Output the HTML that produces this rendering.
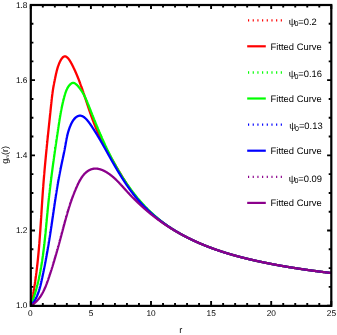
<!DOCTYPE html>
<html><head><meta charset="utf-8"><title>g_m(r)</title>
<style>
html,body{margin:0;padding:0;background:#fff;}
svg{display:block;will-change:transform;}
text{font-family:"Liberation Sans",sans-serif;fill:#000;text-rendering:geometricPrecision;}
</style></head><body>
<svg width="337" height="335" viewBox="0 0 337 335">
<rect x="0" y="0" width="337" height="335" fill="#fff"/>
<defs><clipPath id="c"><rect x="30.80" y="5.00" width="300.50" height="300.70"/></clipPath></defs>
<g clip-path="url(#c)" fill="none" stroke-width="2.3" stroke-linejoin="round" stroke-linecap="round">
<path d="M30.80,305.70 L30.89,305.29 L30.98,304.88 L31.07,304.48 L31.15,304.07 L31.24,303.66 L31.33,303.25 L31.41,302.84 L31.50,302.43 L31.58,302.03 L31.66,301.62 L31.75,301.21 L31.83,300.80 L31.91,300.39 L32.00,299.98 L32.08,299.57 L32.16,299.16 L32.24,298.75 L32.32,298.34 L32.40,297.93 L32.48,297.52 L32.55,297.11 L32.63,296.70 L32.71,296.29 L32.79,295.88 L32.86,295.47 L32.94,295.06 L33.01,294.65 L33.09,294.24 L33.16,293.83 L33.24,293.42 L33.31,293.01 L33.38,292.60 L33.45,292.19 L33.53,291.78 L33.60,291.37 L33.67,290.96 L33.74,290.55 L33.81,290.14 L33.88,289.72 L33.95,289.31 L34.02,288.90 L34.08,288.49 L34.15,288.08 L34.22,287.67 L34.29,287.26 L34.35,286.84 L34.42,286.43 L34.48,286.02 L34.55,285.61 L34.61,285.20 L34.68,284.78 L34.74,284.37 L34.81,283.96 L34.87,283.55 L34.93,283.13 L34.99,282.72 L35.05,282.31 L35.12,281.90 L35.18,281.48 L35.24,281.07 L35.30,280.66 L35.36,280.25 L35.42,279.83 L35.47,279.42 L35.53,279.01 L35.59,278.59 L35.65,278.18 L35.71,277.77 L35.76,277.35 L35.82,276.94 L35.88,276.53 L35.93,276.11 L35.99,275.70 L36.04,275.29 L36.10,274.87 L36.15,274.46 L36.20,274.05 L36.26,273.63 L36.31,273.22 L36.36,272.80 L36.42,272.39 L36.47,271.97 L36.52,271.56 L36.57,271.15 L36.62,270.73 L36.67,270.32 L36.72,269.90 L36.77,269.49 L36.82,269.07 L36.87,268.66 L36.92,268.25 L36.97,267.83 L37.02,267.42 L37.06,267.00 L37.11,266.59 L37.16,266.17 L37.21,265.76 L37.25,265.34 L37.30,264.93 L37.35,264.51 L37.39,264.10 L37.44,263.68 L37.48,263.27 L37.53,262.85 L37.57,262.43 L37.62,262.02 L37.66,261.60 L37.70,261.19 L37.75,260.77 L37.79,260.36 L37.83,259.94 L37.87,259.53 L37.92,259.11 L37.96,258.69 L38.00,258.28 L38.04,257.86 L38.08,257.45 L38.12,257.03 L38.16,256.62 L38.20,256.20 L38.24,255.78 L38.28,255.37 L38.32,254.95 L38.36,254.53 L38.40,254.12 L38.44,253.70 L38.48,253.29 L38.52,252.87 L38.56,252.45 L38.59,252.04 L38.63,251.62 L38.67,251.20 L38.71,250.79 L38.74,250.37 L38.78,249.95 L38.82,249.54 L38.85,249.12 L38.89,248.70 L38.92,248.29 L38.96,247.87 L39.00,247.45 L39.03,247.04 L39.07,246.62 L39.10,246.20 L39.14,245.79 L39.17,245.37 L39.20,244.95 L39.24,244.54 L39.27,244.12 L39.31,243.70 L39.34,243.28 L39.37,242.87 L39.41,242.45 L39.44,242.03 L39.47,241.62 L39.50,241.20 L39.54,240.78 L39.57,240.36 L39.60,239.95 L39.63,239.53 L39.66,239.11 L39.70,238.69 L39.73,238.28 L39.76,237.86 L39.79,237.44 L39.82,237.02 L39.85,236.61 L39.88,236.19 L39.91,235.77 L39.94,235.35 L39.97,234.94 L40.00,234.52 L40.03,234.10 L40.06,233.68 L40.09,233.27 L40.12,232.85 L40.15,232.43 L40.18,232.01 L40.21,231.60 L40.24,231.18 L40.27,230.76 L40.30,230.34 L40.33,229.93 L40.36,229.51 L40.38,229.09 L40.41,228.67 L40.44,228.25 L40.47,227.84 L40.50,227.42 L40.53,227.00 L40.55,226.58 L40.58,226.16 L40.61,225.75 L40.64,225.33 L40.67,224.91 L40.69,224.49 L40.72,224.08 L40.75,223.66 L40.78,223.24 L40.80,222.82 L40.83,222.40 L40.86,221.99 L40.89,221.57 L40.91,221.15 L40.94,220.73 L40.97,220.31 L40.99,219.90 L41.02,219.48 L41.05,219.06 L41.07,218.64 L41.10,218.22 L41.13,217.81 L41.16,217.39 L41.18,216.97 L41.21,216.55 L41.24,216.13 L41.26,215.72 L41.29,215.30 L41.32,214.88 L41.34,214.46 L41.37,214.04 L41.40,213.63 L41.42,213.21 L41.45,212.79 L41.48,212.37 L41.50,211.96 L41.53,211.54 L41.56,211.12 L41.58,210.70 L41.61,210.28 L41.64,209.87 L41.66,209.45 L41.69,209.03 L41.72,208.61 L41.74,208.19 L41.77,207.78 L41.80,207.36 L41.82,206.94 L41.85,206.52 L41.88,206.11 L41.90,205.69 L41.93,205.27 L41.96,204.85 L41.98,204.43 L42.01,204.02 L42.04,203.60 L42.07,203.18 L42.09,202.76 L42.12,202.35 L42.15,201.93 L42.18,201.51 L42.20,201.09 L42.23,200.68 L42.26,200.26 L42.29,199.84 L42.31,199.42 L42.34,199.01 L42.37,198.59 L42.40,198.17 L42.43,197.75 L42.45,197.34 L42.48,196.92 L42.51,196.50 L42.54,196.08 L42.57,195.67 L42.60,195.25 L42.63,194.83 L42.65,194.41 L42.68,194.00 L42.71,193.58 L42.74,193.16 L42.77,192.75 L42.80,192.33 L42.83,191.91 L42.86,191.49 L42.89,191.08 L42.92,190.66 L42.95,190.24 L42.98,189.83 L43.01,189.41 L43.04,188.99 L43.07,188.57 L43.10,188.16 L43.13,187.74 L43.16,187.32 L43.20,186.91 L43.23,186.49 L43.26,186.07 L43.29,185.66 L43.32,185.24 L43.35,184.82 L43.39,184.41 L43.42,183.99 L43.45,183.57 L43.48,183.16 L43.52,182.74 L43.55,182.33 L43.58,181.91 L43.61,181.49 L43.65,181.08 L43.68,180.66 L43.71,180.24 L43.75,179.83 L43.78,179.41 L43.82,178.99 L43.85,178.58 L43.88,178.16 L43.92,177.75 L43.95,177.33 L43.99,176.91 L44.02,176.50 L44.06,176.08 L44.09,175.67 L44.13,175.25 L44.16,174.83 L44.20,174.42 L44.23,174.00 L44.27,173.59 L44.31,173.17 L44.34,172.75 L44.38,172.34 L44.41,171.92 L44.45,171.51 L44.49,171.09 L44.52,170.67 L44.56,170.26 L44.60,169.84 L44.63,169.43 L44.67,169.01 L44.71,168.60 L44.74,168.18 L44.78,167.76 L44.82,167.35 L44.86,166.93 L44.89,166.52 L44.93,166.10 L44.97,165.69 L45.01,165.27 L45.04,164.85 L45.08,164.44 L45.12,164.02 L45.16,163.61 L45.20,163.19 L45.24,162.78 L45.27,162.36 L45.31,161.95 L45.35,161.53 L45.39,161.11 L45.43,160.70 L45.47,160.28 L45.51,159.87 L45.55,159.45 L45.59,159.04 L45.63,158.62 L45.66,158.21 L45.70,157.79 L45.74,157.37 L45.78,156.96 L45.82,156.54 L45.86,156.13 L45.90,155.71 L45.94,155.30 L45.98,154.88 L46.02,154.47 L46.06,154.05 L46.11,153.63 L46.15,153.22 L46.19,152.80 L46.23,152.39 L46.27,151.97 L46.31,151.56 L46.35,151.14 L46.39,150.73 L46.43,150.31 L46.47,149.89 L46.51,149.48 L46.55,149.06 L46.60,148.65 L46.64,148.23 L46.68,147.82 L46.72,147.40 L46.76,146.99 L46.80,146.57 L46.85,146.15 L46.89,145.74 L46.93,145.32 L46.97,144.91 L47.01,144.49 L47.05,144.08 L47.10,143.66 L47.14,143.24 L47.18,142.83 L47.22,142.41 L47.27,142.00 L47.31,141.58 L47.35,141.17 L47.39,140.75 L47.44,140.33 L47.48,139.92 L47.52,139.50 L47.56,139.09 L47.61,138.67 L47.65,138.26 L47.69,137.84 L47.73,137.42 L47.78,137.01 L47.82,136.59 L47.86,136.18 L47.91,135.76 L47.95,135.34 L47.99,134.93 L48.03,134.51 L48.08,134.10 L48.12,133.68 L48.16,133.26 L48.21,132.85 L48.25,132.43 L48.29,132.01 L48.34,131.60 L48.38,131.18 L48.42,130.77 L48.47,130.35 L48.51,129.93 L48.55,129.52 L48.60,129.10 L48.64,128.68 L48.68,128.27 L48.73,127.85 L48.77,127.43 L48.82,127.02 L48.86,126.60 L48.90,126.18 L48.95,125.77 L48.99,125.35 L49.03,124.93 L49.08,124.52 L49.12,124.10 L49.16,123.68 L49.21,123.27 L49.25,122.85 L49.30,122.43 L49.34,122.02 L49.38,121.60 L49.43,121.18 L49.47,120.77 L49.51,120.35 L49.56,119.93 L49.60,119.52 L49.65,119.10 L49.69,118.68 L49.73,118.26 L49.78,117.85 L49.82,117.43 L49.86,117.01 L49.91,116.59 L49.95,116.18 L50.00,115.76 L50.04,115.34 L50.08,114.92 L50.13,114.51 L50.17,114.09 L50.22,113.67 L50.26,113.25 L50.30,112.84 L50.35,112.42 L50.39,112.00 L50.43,111.58 L50.48,111.16 L50.52,110.75 L50.56,110.33 L50.61,109.91 L50.65,109.49 L50.70,109.07 L50.74,108.66 L50.78,108.24 L50.83,107.82 L50.87,107.40 L50.91,106.98 L50.96,106.56 L51.00,106.15 L51.04,105.73 L51.09,105.31 L51.13,104.89 L51.17,104.47 L51.22,104.05 L51.26,103.64 L51.31,103.22 L51.35,102.80 L51.39,102.38 L51.44,101.96 L51.48,101.55 L51.53,101.13 L51.57,100.71 L51.62,100.30 L51.67,99.88 L51.71,99.47 L51.76,99.05 L51.81,98.64 L51.85,98.22 L51.90,97.81 L51.95,97.39 L52.00,96.98 L52.05,96.57 L52.10,96.16 L52.15,95.75 L52.20,95.33 L52.25,94.92 L52.30,94.52 L52.35,94.11 L52.41,93.70 L52.46,93.29 L52.51,92.88 L52.57,92.48 L52.63,92.07 L52.68,91.67 L52.74,91.27 L52.80,90.86 L52.86,90.46 L52.92,90.06 L52.98,89.66 L53.04,89.26 L53.10,88.87 L53.16,88.47 L53.23,88.07 L53.29,87.68 L53.36,87.29 L53.43,86.89 L53.49,86.50 L53.56,86.11 L53.63,85.72 L53.70,85.33 L53.78,84.94 L53.85,84.55 L53.92,84.16 L54.00,83.77 L54.07,83.38 L54.15,82.99 L54.23,82.59 L54.31,82.19 L54.39,81.80 L54.47,81.40 L54.55,80.99 L54.63,80.59 L54.72,80.18 L54.80,79.77 L54.89,79.36 L54.98,78.94 L55.06,78.52 L55.15,78.09 L55.24,77.66 L55.33,77.23 L55.43,76.79 L55.52,76.35 L55.61,75.90 L55.71,75.45 L55.81,74.99 L55.91,74.54 L56.01,74.07 L56.11,73.61 L56.22,73.15 L56.33,72.68 L56.44,72.21 L56.55,71.73 L56.67,71.26 L56.79,70.78 L56.91,70.31 L57.04,69.83 L57.17,69.35 L57.31,68.87 L57.44,68.39 L57.59,67.91 L57.73,67.43 L57.88,66.95 L58.04,66.48 L58.20,66.00 L58.37,65.52 L58.54,65.05 L58.71,64.58 L58.89,64.11 L59.08,63.65 L59.27,63.19 L59.46,62.74 L59.66,62.30 L59.86,61.87 L60.06,61.44 L60.27,61.03 L60.48,60.62 L60.70,60.23 L60.92,59.86 L61.14,59.49 L61.36,59.14 L61.59,58.81 L61.82,58.50 L62.05,58.20 L62.29,57.92 L62.53,57.66 L62.77,57.42 L63.01,57.20 L63.25,57.01 L63.50,56.84 L63.75,56.69 L64.00,56.57 L64.25,56.48 L64.50,56.41 L64.75,56.37 L65.00,56.36 L65.26,56.38 L65.51,56.43 L65.77,56.51 L66.03,56.61 L66.28,56.74 L66.54,56.90 L66.80,57.08 L67.05,57.28 L67.31,57.50 L67.56,57.75 L67.82,58.01 L68.08,58.29 L68.33,58.59 L68.58,58.91 L68.84,59.24 L69.09,59.58 L69.34,59.94 L69.59,60.31 L69.83,60.70 L70.08,61.09 L70.33,61.49 L70.57,61.90 L70.81,62.32 L71.05,62.74 L71.28,63.17 L71.52,63.60 L71.75,64.04 L71.98,64.47 L72.20,64.91 L72.42,65.35 L72.64,65.78 L72.86,66.22 L73.07,66.65 L73.29,67.08 L73.49,67.51 L73.70,67.93 L73.90,68.35 L74.10,68.77 L74.30,69.19 L74.49,69.61 L74.68,70.02 L74.87,70.44 L75.06,70.85 L75.24,71.26 L75.43,71.67 L75.61,72.07 L75.78,72.48 L75.96,72.89 L76.14,73.29 L76.31,73.69 L76.48,74.10 L76.65,74.50 L76.82,74.90 L76.99,75.30 L77.15,75.70 L77.32,76.10 L77.48,76.50 L77.64,76.90 L77.80,77.30 L77.96,77.70 L78.12,78.09 L78.28,78.49 L78.44,78.89 L78.60,79.29 L78.75,79.69 L78.91,80.09 L79.06,80.49 L79.21,80.89 L79.37,81.29 L79.52,81.69 L79.67,82.08 L79.82,82.48 L79.97,82.88 L80.11,83.28 L80.26,83.68 L80.41,84.08 L80.56,84.47 L80.70,84.87 L80.85,85.27 L80.99,85.67 L81.13,86.07 L81.28,86.47 L81.42,86.86 L81.56,87.26 L81.70,87.66 L81.84,88.06 L81.98,88.45 L82.12,88.85 L82.26,89.25 L82.40,89.65 L82.54,90.04 L82.67,90.44 L82.81,90.84 L82.95,91.24 L83.08,91.63 L83.22,92.03 L83.35,92.43 L83.49,92.82 L83.62,93.22 L83.76,93.62 L83.89,94.01 L84.03,94.41 L84.16,94.81 L84.29,95.20 L84.42,95.60 L84.56,95.99 L84.69,96.39 L84.82,96.79 L84.95,97.18 L85.08,97.58 L85.21,97.97 L85.35,98.37 L85.48,98.76 L85.61,99.16 L85.74,99.55 L85.87,99.95 L86.00,100.34 L86.13,100.74 L86.26,101.13 L86.39,101.53 L86.52,101.92 L86.65,102.31 L86.78,102.71 L86.91,103.10 L87.04,103.49 L87.17,103.89 L87.30,104.28 L87.43,104.67 L87.56,105.07 L87.69,105.46 L87.82,105.85 L87.95,106.25 L88.08,106.64 L88.22,107.03 L88.35,107.42 L88.48,107.82 L88.61,108.21 L88.74,108.60 L88.87,108.99 L89.01,109.38 L89.14,109.77 L89.27,110.16 L89.40,110.55 L89.54,110.95 L89.67,111.34 L89.81,111.73 L89.94,112.12 L90.07,112.51 L90.21,112.90 L90.35,113.29 L90.48,113.68 L90.62,114.07 L90.75,114.45 L90.89,114.84 L91.03,115.23 L91.17,115.62 L91.31,116.01 L91.45,116.40 L91.59,116.79 L91.73,117.17 L91.87,117.56 L92.01,117.95 L92.15,118.34 L92.29,118.72 L92.44,119.11 L92.58,119.50 L92.73,119.88 L92.87,120.27 L93.02,120.66 L93.16,121.04 L93.31,121.43 L93.46,121.81 L93.61,122.20 L93.76,122.58 L93.91,122.97 L94.06,123.35 L94.21,123.74 L94.36,124.12 L94.52,124.50 L94.67,124.89 L94.83,125.27 L94.98,125.65 L95.14,126.04 L95.30,126.42 L95.46,126.80 L95.62,127.18 L95.78,127.57 L95.94,127.95 L96.10,128.33 L96.27,128.71 L96.43,129.09 L96.60,129.47 L96.76,129.85 L96.93,130.23 L97.10,130.61 L97.27,130.99 L97.44,131.37 L97.61,131.75 L97.78,132.13 L97.95,132.51 L98.12,132.89 L98.30,133.27 L98.47,133.65 L98.65,134.03 L98.82,134.40 L99.00,134.78 L99.18,135.16 L99.36,135.54 L99.54,135.91 L99.72,136.29 L99.90,136.67 L100.08,137.05 L100.26,137.42 L100.45,137.80 L100.63,138.17 L100.81,138.55 L101.00,138.93 L101.19,139.30 L101.37,139.68 L101.56,140.05 L101.75,140.43 L101.94,140.80 L102.12,141.17 L102.31,141.55 L102.50,141.92 L102.70,142.30 L102.89,142.67 L103.08,143.04 L103.27,143.42 L103.47,143.79 L103.66,144.16 L103.85,144.54 L104.05,144.91 L104.24,145.28 L104.44,145.65 L104.64,146.02 L104.83,146.40 L105.03,146.77 L105.23,147.14 L105.43,147.51 L105.63,147.88 L105.83,148.25 L106.03,148.62 L106.23,148.99 L106.43,149.36 L106.63,149.74 L106.83,150.11 L107.03,150.48 L107.24,150.84 L107.44,151.21 L107.64,151.58 L107.85,151.95 L108.05,152.32 L108.26,152.69 L108.46,153.06 L108.67,153.43 L108.87,153.80 L109.08,154.17 L109.28,154.53 L109.49,154.90 L109.70,155.27 L109.90,155.64 L110.11,156.01 L110.32,156.37 L110.53,156.74 L110.74,157.11 L110.94,157.47 L111.15,157.84 L111.36,158.21 L111.57,158.57 L111.78,158.94 L111.99,159.31 L112.20,159.67 L112.41,160.04 L112.62,160.41 L112.83,160.77 L113.04,161.14 L113.25,161.50 L113.47,161.87 L113.68,162.23 L113.89,162.60 L114.10,162.96 L114.31,163.33 L114.52,163.69 L114.73,164.06 L114.95,164.42 L115.16,164.79 L115.37,165.15 L115.58,165.52 L115.80,165.88 L116.01,166.24 L116.22,166.61 L116.43,166.97 L116.64,167.34 L116.86,167.70 L117.07,168.06 L117.28,168.43 L117.50,168.79 L117.71,169.15 L117.92,169.51 L118.13,169.88 L118.35,170.24 L118.56,170.60 L118.77,170.96 L118.99,171.33 L119.20,171.69 L119.41,172.05 L119.63,172.41 L119.84,172.77 L120.06,173.13 L120.27,173.49 L120.49,173.85 L120.70,174.21 L120.92,174.57 L121.13,174.93 L121.35,175.29 L121.57,175.65 L121.78,176.01 L122.00,176.37 L122.22,176.72 L122.43,177.08 L122.65,177.44 L122.87,177.80 L123.09,178.15 L123.31,178.51 L123.53,178.87 L123.75,179.22 L123.97,179.58 L124.19,179.93 L124.41,180.29 L124.63,180.64 L124.85,180.99 L125.07,181.35 L125.30,181.70 L125.52,182.05 L125.74,182.40 L125.97,182.75 L126.19,183.11 L126.42,183.46 L126.64,183.81 L126.87,184.16 L127.10,184.51 L127.32,184.85 L127.55,185.20 L127.78,185.55 L128.01,185.90 L128.24,186.24 L128.47,186.59 L128.70,186.93 L128.93,187.28 L129.17,187.62 L129.40,187.97 L129.63,188.31 L129.87,188.65 L130.10,189.00 L130.34,189.34 L130.57,189.68 L130.81,190.02 L131.05,190.36 L131.29,190.70 L131.53,191.04 L131.77,191.37 L132.01,191.71 L132.25,192.05 L132.49,192.38 L132.74,192.72 L132.98,193.05 L133.23,193.39 L133.47,193.72 L133.72,194.05 L133.97,194.38 L134.22,194.72 L134.47,195.05 L134.72,195.37 L134.97,195.70 L135.22,196.03 L135.47,196.36 L135.73,196.69 L135.98,197.01 L136.24,197.34 L136.50,197.66 L136.75,197.98 L137.01,198.31 L137.27,198.63 L137.53,198.95 L137.80,199.27 L138.06,199.59 L138.32,199.91 L138.59,200.22 L138.86,200.54 L139.12,200.86 L139.39,201.17 L139.66,201.49 L139.93,201.80 L140.20,202.11 L140.48,202.42 L140.75,202.73 L141.03,203.04 L141.30,203.35 L141.58,203.66 L141.86,203.97 L142.14,204.27 L142.42,204.58 L142.70,204.88 L142.99,205.19 L143.27,205.49 L143.56,205.79 L143.84,206.09 L144.13,206.39 L144.42,206.69 L144.71,206.99 L145.00,207.29 L145.29,207.58 L145.58,207.88 L145.88,208.17 L146.17,208.47 L146.47,208.76 L146.76,209.05 L147.06,209.34 L147.36,209.63 L147.66,209.92 L147.96,210.21 L148.26,210.50 L148.56,210.78 L148.87,211.07 L149.17,211.35 L149.48,211.64 L149.78,211.92 L150.09,212.20 L150.40,212.48 L150.71,212.76 L151.02,213.04 L151.33,213.32 L151.64,213.60 L151.95,213.88 L152.27,214.15 L152.58,214.43 L152.90,214.70 L153.21,214.97 L153.53,215.25 L153.85,215.52 L154.17,215.79 L154.49,216.06 L154.81,216.33 L155.13,216.60 L155.45,216.86 L155.78,217.13 L156.10,217.39 L156.43,217.66 L156.75,217.92 L157.08,218.19 L157.40,218.45 L157.73,218.71 L158.06,218.97 L158.39,219.23 L158.72,219.49 L159.05,219.74 L159.38,220.00 L159.72,220.26 L160.05,220.51 L160.38,220.77 L160.72,221.02 L161.05,221.27 L161.39,221.52 L161.73,221.77 L162.07,222.02 L162.40,222.27 L162.74,222.52 L163.08,222.77 L163.42,223.01 L163.77,223.26 L164.11,223.50 L164.45,223.75 L164.79,223.99 L165.14,224.23 L165.48,224.47 L165.83,224.71 L166.17,224.95 L166.52,225.19 L166.87,225.43 L167.21,225.67 L167.56,225.90 L167.91,226.14 L168.26,226.37 L168.61,226.61 L168.96,226.84 L169.31,227.07 L169.66,227.30 L170.02,227.53 L170.37,227.76 L170.72,227.99 L171.08,228.22 L171.43,228.44 L171.79,228.67 L172.14,228.89 L172.50,229.12 L172.86,229.34 L173.21,229.56 L173.57,229.79 L173.93,230.01 L174.29,230.23 L174.65,230.45 L175.01,230.66 L175.37,230.88 L175.73,231.10 L176.09,231.31 L176.45,231.53 L176.81,231.74 L177.18,231.96 L177.54,232.17 L177.90,232.38 L178.27,232.59 L178.63,232.80 L179.00,233.01 L179.36,233.22 L179.73,233.42 L180.09,233.63 L180.46,233.84 L180.83,234.04 L181.19,234.24 L181.56,234.45 L181.93,234.65 L182.30,234.85 L182.67,235.05 L183.04,235.25 L183.40,235.45 L183.77,235.65 L184.14,235.85 L184.52,236.04 L184.89,236.24 L185.26,236.43 L185.63,236.63 L186.00,236.82 L186.37,237.01 L186.75,237.20 L187.12,237.40 L187.49,237.59 L187.87,237.77 L188.24,237.96 L188.61,238.15 L188.99,238.34 L189.36,238.52 L189.74,238.71 L190.11,238.89 L190.49,239.08 L190.87,239.26 L191.24,239.44 L191.62,239.62 L192.00,239.80 L192.37,239.98 L192.75,240.16 L193.13,240.34 L193.51,240.52 L193.89,240.70 L194.27,240.87 L194.65,241.05 L195.03,241.22 L195.41,241.40 L195.79,241.57 L196.17,241.74 L196.55,241.91 L196.93,242.08 L197.31,242.25 L197.69,242.42 L198.08,242.59 L198.46,242.76 L198.84,242.93 L199.22,243.09 L199.61,243.26 L199.99,243.42 L200.38,243.59 L200.76,243.75 L201.14,243.92 L201.53,244.08 L201.91,244.24 L202.30,244.40 L202.68,244.56 L203.07,244.72 L203.46,244.88 L203.84,245.04 L204.23,245.19 L204.62,245.35 L205.00,245.51 L205.39,245.66 L205.78,245.82 L206.17,245.97 L206.56,246.12 L206.94,246.28 L207.33,246.43 L207.72,246.58 L208.11,246.73 L208.50,246.88 L208.89,247.03 L209.28,247.18 L209.67,247.33 L210.06,247.48 L210.45,247.62 L210.85,247.77 L211.24,247.91 L211.63,248.06 L212.02,248.20 L212.41,248.35 L212.80,248.49 L213.20,248.63 L213.59,248.78 L213.98,248.92 L214.38,249.06 L214.77,249.20 L215.16,249.34 L215.56,249.48 L215.95,249.61 L216.35,249.75 L216.74,249.89 L217.14,250.02 L217.53,250.16 L217.93,250.30 L218.32,250.43 L218.72,250.56 L219.11,250.70 L219.51,250.83 L219.91,250.96 L220.30,251.09 L220.70,251.23 L221.10,251.36 L221.49,251.49 L221.89,251.62 L222.29,251.74 L222.69,251.87 L223.08,252.00 L223.48,252.13 L223.88,252.25 L224.28,252.38 L224.68,252.51 L225.08,252.63 L225.47,252.75 L225.87,252.88 L226.27,253.00 L226.67,253.12 L227.07,253.25 L227.47,253.37 L227.87,253.49 L228.27,253.61 L228.67,253.73 L229.07,253.85 L229.48,253.97 L229.88,254.09 L230.28,254.21 L230.68,254.32 L231.08,254.44 L231.48,254.56 L231.88,254.67 L232.29,254.79 L232.69,254.91 L233.09,255.02 L233.49,255.13 L233.90,255.25 L234.30,255.36 L234.70,255.47 L235.10,255.59 L235.51,255.70 L235.91,255.81 L236.31,255.92 L236.72,256.03 L237.12,256.14 L237.53,256.25 L237.93,256.36 L238.33,256.47 L238.74,256.57 L239.14,256.68 L239.55,256.79 L239.95,256.90 L240.36,257.00 L240.76,257.11 L241.17,257.21 L241.57,257.32 L241.98,257.42 L242.38,257.53 L242.79,257.63 L243.19,257.73 L243.60,257.84 L244.01,257.94 L244.41,258.04 L244.82,258.14 L245.22,258.24 L245.63,258.34 L246.04,258.44 L246.44,258.54 L246.85,258.64 L247.26,258.74 L247.66,258.84 L248.07,258.94 L248.48,259.04 L248.88,259.13 L249.29,259.23 L249.70,259.33 L250.11,259.42 L250.51,259.52 L250.92,259.62 L251.33,259.71 L251.74,259.81 L252.14,259.90 L252.55,259.99 L252.96,260.09 L253.37,260.18 L253.78,260.27 L254.18,260.37 L254.59,260.46 L255.00,260.55 L255.41,260.64 L255.82,260.73 L256.23,260.83 L256.63,260.92 L257.04,261.01 L257.45,261.10 L257.86,261.19 L258.27,261.28 L258.68,261.36 L259.09,261.45 L259.50,261.54 L259.90,261.63 L260.31,261.72 L260.72,261.80 L261.13,261.89 L261.54,261.98 L261.95,262.06 L262.36,262.15 L262.77,262.24 L263.18,262.32 L263.59,262.41 L264.00,262.49 L264.41,262.58 L264.82,262.66 L265.23,262.74 L265.64,262.83 L266.05,262.91 L266.46,262.99 L266.87,263.08 L267.28,263.16 L267.69,263.24 L268.10,263.32 L268.51,263.40 L268.92,263.48 L269.33,263.57 L269.74,263.65 L270.15,263.73 L270.56,263.81 L270.97,263.89 L271.38,263.97 L271.79,264.04 L272.20,264.12 L272.61,264.20 L273.02,264.28 L273.43,264.36 L273.84,264.44 L274.25,264.51 L274.66,264.59 L275.07,264.67 L275.48,264.74 L275.89,264.82 L276.30,264.90 L276.72,264.97 L277.13,265.05 L277.54,265.12 L277.95,265.20 L278.36,265.27 L278.77,265.35 L279.18,265.42 L279.59,265.50 L280.00,265.57 L280.42,265.64 L280.83,265.72 L281.24,265.79 L281.65,265.86 L282.06,265.93 L282.47,266.01 L282.89,266.08 L283.30,266.15 L283.71,266.22 L284.12,266.29 L284.53,266.36 L284.94,266.43 L285.36,266.50 L285.77,266.57 L286.18,266.64 L286.59,266.71 L287.00,266.78 L287.42,266.85 L287.83,266.92 L288.24,266.99 L288.65,267.06 L289.06,267.12 L289.48,267.19 L289.89,267.26 L290.30,267.33 L290.71,267.39 L291.13,267.46 L291.54,267.53 L291.95,267.59 L292.36,267.66 L292.78,267.73 L293.19,267.79 L293.60,267.86 L294.01,267.92 L294.43,267.99 L294.84,268.05 L295.25,268.12 L295.67,268.18 L296.08,268.25 L296.49,268.31 L296.90,268.37 L297.32,268.44 L297.73,268.50 L298.14,268.56 L298.56,268.63 L298.97,268.69 L299.38,268.75 L299.80,268.81 L300.21,268.88 L300.62,268.94 L301.04,269.00 L301.45,269.06 L301.86,269.12 L302.28,269.18 L302.69,269.24 L303.10,269.30 L303.52,269.37 L303.93,269.43 L304.35,269.49 L304.76,269.55 L305.17,269.61 L305.59,269.66 L306.00,269.72 L306.41,269.78 L306.83,269.84 L307.24,269.90 L307.66,269.96 L308.07,270.02 L308.48,270.08 L308.90,270.13 L309.31,270.19 L309.73,270.25 L310.14,270.31 L310.56,270.36 L310.97,270.42 L311.38,270.48 L311.80,270.53 L312.21,270.59 L312.63,270.65 L313.04,270.70 L313.46,270.76 L313.87,270.81 L314.29,270.87 L314.70,270.93 L315.11,270.98 L315.53,271.04 L315.94,271.09 L316.36,271.15 L316.77,271.20 L317.19,271.25 L317.60,271.31 L318.02,271.36 L318.43,271.42 L318.85,271.47 L319.26,271.52 L319.68,271.58 L320.09,271.63 L320.51,271.69 L320.92,271.74 L321.34,271.79 L321.75,271.84 L322.17,271.90 L322.58,271.95 L323.00,272.00 L323.41,272.05 L323.83,272.11 L324.24,272.16 L324.66,272.21 L325.07,272.26 L325.49,272.31 L325.91,272.36 L326.32,272.41 L326.74,272.47 L327.15,272.52 L327.57,272.57 L327.98,272.62 L328.40,272.67 L328.81,272.72 L329.23,272.77 L329.65,272.82 L330.06,272.87 L330.48,272.92 L330.89,272.97 L331.31,273.02" stroke="#ff0000"/>
<path d="M30.80,305.70 L30.94,305.34 L31.08,304.98 L31.21,304.62 L31.35,304.26 L31.48,303.90 L31.62,303.54 L31.75,303.18 L31.88,302.82 L32.01,302.46 L32.14,302.10 L32.27,301.74 L32.40,301.38 L32.53,301.02 L32.66,300.66 L32.78,300.29 L32.91,299.93 L33.03,299.57 L33.16,299.21 L33.28,298.84 L33.40,298.48 L33.52,298.12 L33.64,297.76 L33.76,297.39 L33.88,297.03 L34.00,296.66 L34.11,296.30 L34.23,295.94 L34.34,295.57 L34.46,295.21 L34.57,294.84 L34.69,294.48 L34.80,294.11 L34.91,293.75 L35.02,293.38 L35.13,293.02 L35.24,292.65 L35.35,292.28 L35.45,291.92 L35.56,291.55 L35.67,291.18 L35.77,290.82 L35.88,290.45 L35.98,290.08 L36.08,289.72 L36.18,289.35 L36.29,288.98 L36.39,288.61 L36.49,288.25 L36.59,287.88 L36.69,287.51 L36.78,287.14 L36.88,286.77 L36.98,286.40 L37.07,286.03 L37.17,285.66 L37.26,285.30 L37.36,284.93 L37.45,284.56 L37.54,284.19 L37.63,283.82 L37.72,283.45 L37.81,283.08 L37.90,282.71 L37.99,282.33 L38.08,281.96 L38.17,281.59 L38.26,281.22 L38.34,280.85 L38.43,280.48 L38.51,280.11 L38.60,279.74 L38.68,279.36 L38.77,278.99 L38.85,278.62 L38.93,278.25 L39.01,277.88 L39.09,277.50 L39.17,277.13 L39.25,276.76 L39.33,276.38 L39.41,276.01 L39.49,275.64 L39.57,275.26 L39.64,274.89 L39.72,274.52 L39.79,274.14 L39.87,273.77 L39.94,273.40 L40.02,273.02 L40.09,272.65 L40.16,272.27 L40.24,271.90 L40.31,271.52 L40.38,271.15 L40.45,270.77 L40.52,270.40 L40.59,270.02 L40.66,269.65 L40.73,269.27 L40.79,268.90 L40.86,268.52 L40.93,268.14 L41.00,267.77 L41.06,267.39 L41.13,267.02 L41.19,266.64 L41.26,266.26 L41.32,265.89 L41.38,265.51 L41.45,265.13 L41.51,264.76 L41.57,264.38 L41.63,264.00 L41.70,263.62 L41.76,263.25 L41.82,262.87 L41.88,262.49 L41.94,262.11 L42.00,261.74 L42.05,261.36 L42.11,260.98 L42.17,260.60 L42.23,260.22 L42.28,259.85 L42.34,259.47 L42.40,259.09 L42.45,258.71 L42.51,258.33 L42.56,257.95 L42.62,257.57 L42.67,257.20 L42.73,256.82 L42.78,256.44 L42.83,256.06 L42.89,255.68 L42.94,255.30 L42.99,254.92 L43.04,254.54 L43.09,254.16 L43.14,253.78 L43.19,253.40 L43.24,253.02 L43.29,252.64 L43.34,252.26 L43.39,251.88 L43.44,251.50 L43.49,251.12 L43.54,250.74 L43.59,250.36 L43.63,249.98 L43.68,249.60 L43.73,249.22 L43.77,248.84 L43.82,248.45 L43.87,248.07 L43.91,247.69 L43.96,247.31 L44.00,246.93 L44.05,246.55 L44.09,246.17 L44.14,245.79 L44.18,245.40 L44.23,245.02 L44.27,244.64 L44.31,244.26 L44.36,243.88 L44.40,243.50 L44.44,243.11 L44.48,242.73 L44.53,242.35 L44.57,241.97 L44.61,241.59 L44.65,241.20 L44.69,240.82 L44.73,240.44 L44.78,240.06 L44.82,239.67 L44.86,239.29 L44.90,238.91 L44.94,238.53 L44.98,238.14 L45.02,237.76 L45.06,237.38 L45.10,237.00 L45.14,236.61 L45.17,236.23 L45.21,235.85 L45.25,235.47 L45.29,235.08 L45.33,234.70 L45.37,234.32 L45.41,233.93 L45.44,233.55 L45.48,233.17 L45.52,232.78 L45.56,232.40 L45.59,232.02 L45.63,231.64 L45.67,231.25 L45.71,230.87 L45.74,230.49 L45.78,230.10 L45.82,229.72 L45.85,229.33 L45.89,228.95 L45.93,228.57 L45.96,228.18 L46.00,227.80 L46.04,227.42 L46.07,227.03 L46.11,226.65 L46.15,226.27 L46.18,225.88 L46.22,225.50 L46.26,225.12 L46.29,224.73 L46.33,224.35 L46.36,223.96 L46.40,223.58 L46.43,223.20 L46.47,222.81 L46.51,222.43 L46.54,222.05 L46.58,221.66 L46.61,221.28 L46.65,220.89 L46.69,220.51 L46.72,220.13 L46.76,219.74 L46.79,219.36 L46.83,218.98 L46.87,218.59 L46.90,218.21 L46.94,217.82 L46.97,217.44 L47.01,217.06 L47.05,216.67 L47.08,216.29 L47.12,215.91 L47.15,215.52 L47.19,215.14 L47.23,214.75 L47.26,214.37 L47.30,213.99 L47.34,213.60 L47.37,213.22 L47.41,212.84 L47.45,212.45 L47.48,212.07 L47.52,211.68 L47.56,211.30 L47.59,210.92 L47.63,210.53 L47.67,210.15 L47.71,209.77 L47.74,209.38 L47.78,209.00 L47.82,208.62 L47.86,208.23 L47.90,207.85 L47.93,207.46 L47.97,207.08 L48.01,206.70 L48.05,206.31 L48.09,205.93 L48.13,205.55 L48.17,205.16 L48.21,204.78 L48.24,204.40 L48.28,204.02 L48.32,203.63 L48.36,203.25 L48.40,202.87 L48.44,202.48 L48.48,202.10 L48.52,201.72 L48.57,201.33 L48.61,200.95 L48.65,200.57 L48.69,200.18 L48.73,199.80 L48.77,199.42 L48.81,199.04 L48.85,198.65 L48.89,198.27 L48.94,197.89 L48.98,197.51 L49.02,197.12 L49.06,196.74 L49.10,196.36 L49.15,195.97 L49.19,195.59 L49.23,195.21 L49.28,194.83 L49.32,194.44 L49.36,194.06 L49.40,193.68 L49.45,193.30 L49.49,192.91 L49.53,192.53 L49.58,192.15 L49.62,191.77 L49.67,191.39 L49.71,191.00 L49.75,190.62 L49.80,190.24 L49.84,189.86 L49.89,189.48 L49.93,189.09 L49.98,188.71 L50.02,188.33 L50.07,187.95 L50.11,187.57 L50.16,187.18 L50.20,186.80 L50.25,186.42 L50.29,186.04 L50.34,185.66 L50.39,185.27 L50.43,184.89 L50.48,184.51 L50.52,184.13 L50.57,183.75 L50.62,183.37 L50.66,182.99 L50.71,182.60 L50.76,182.22 L50.80,181.84 L50.85,181.46 L50.90,181.08 L50.95,180.70 L50.99,180.32 L51.04,179.93 L51.09,179.55 L51.14,179.17 L51.18,178.79 L51.23,178.41 L51.28,178.03 L51.33,177.65 L51.38,177.27 L51.42,176.89 L51.47,176.50 L51.52,176.12 L51.57,175.74 L51.62,175.36 L51.67,174.98 L51.72,174.60 L51.76,174.22 L51.81,173.84 L51.86,173.46 L51.91,173.08 L51.96,172.70 L52.01,172.32 L52.06,171.94 L52.11,171.56 L52.16,171.18 L52.21,170.79 L52.26,170.41 L52.31,170.03 L52.36,169.65 L52.41,169.27 L52.46,168.89 L52.51,168.51 L52.56,168.13 L52.61,167.75 L52.66,167.37 L52.71,166.99 L52.76,166.61 L52.81,166.23 L52.87,165.85 L52.92,165.47 L52.97,165.09 L53.02,164.71 L53.07,164.33 L53.12,163.95 L53.17,163.57 L53.22,163.19 L53.28,162.82 L53.33,162.44 L53.38,162.06 L53.43,161.68 L53.48,161.30 L53.54,160.92 L53.59,160.54 L53.64,160.16 L53.69,159.78 L53.74,159.40 L53.80,159.02 L53.85,158.64 L53.90,158.26 L53.95,157.88 L54.01,157.50 L54.06,157.13 L54.11,156.75 L54.17,156.37 L54.22,155.99 L54.27,155.61 L54.32,155.23 L54.38,154.85 L54.43,154.47 L54.48,154.10 L54.54,153.72 L54.59,153.34 L54.64,152.96 L54.70,152.58 L54.75,152.20 L54.81,151.82 L54.86,151.45 L54.91,151.07 L54.97,150.69 L55.02,150.31 L55.08,149.93 L55.13,149.55 L55.18,149.18 L55.24,148.80 L55.29,148.42 L55.35,148.04 L55.40,147.66 L55.46,147.29 L55.51,146.91 L55.56,146.53 L55.62,146.15 L55.67,145.77 L55.73,145.40 L55.78,145.02 L55.84,144.64 L55.89,144.26 L55.95,143.89 L56.00,143.51 L56.06,143.13 L56.11,142.75 L56.17,142.38 L56.22,142.00 L56.28,141.62 L56.33,141.24 L56.39,140.87 L56.44,140.49 L56.50,140.11 L56.55,139.74 L56.61,139.36 L56.67,138.98 L56.72,138.60 L56.78,138.23 L56.83,137.85 L56.89,137.47 L56.94,137.10 L57.00,136.72 L57.06,136.34 L57.11,135.97 L57.17,135.59 L57.22,135.21 L57.28,134.84 L57.34,134.46 L57.39,134.09 L57.45,133.71 L57.50,133.33 L57.56,132.96 L57.62,132.58 L57.67,132.20 L57.73,131.83 L57.79,131.45 L57.84,131.08 L57.90,130.70 L57.95,130.32 L58.01,129.95 L58.07,129.57 L58.12,129.20 L58.18,128.82 L58.24,128.44 L58.29,128.07 L58.35,127.69 L58.41,127.32 L58.46,126.94 L58.52,126.57 L58.58,126.19 L58.63,125.82 L58.69,125.44 L58.75,125.07 L58.80,124.69 L58.86,124.31 L58.92,123.94 L58.98,123.56 L59.03,123.19 L59.09,122.81 L59.15,122.44 L59.21,122.06 L59.27,121.69 L59.32,121.31 L59.38,120.94 L59.44,120.56 L59.50,120.18 L59.56,119.81 L59.62,119.43 L59.68,119.06 L59.74,118.68 L59.80,118.31 L59.87,117.93 L59.93,117.55 L59.99,117.18 L60.05,116.80 L60.12,116.42 L60.18,116.05 L60.24,115.67 L60.31,115.29 L60.37,114.92 L60.44,114.54 L60.50,114.16 L60.57,113.78 L60.64,113.41 L60.71,113.03 L60.77,112.65 L60.84,112.27 L60.91,111.89 L60.98,111.51 L61.05,111.13 L61.13,110.76 L61.20,110.38 L61.27,110.00 L61.34,109.62 L61.42,109.24 L61.49,108.86 L61.57,108.48 L61.64,108.09 L61.72,107.71 L61.80,107.33 L61.88,106.95 L61.96,106.57 L62.04,106.19 L62.12,105.80 L62.20,105.42 L62.28,105.04 L62.37,104.65 L62.45,104.27 L62.54,103.89 L62.63,103.50 L62.71,103.12 L62.80,102.73 L62.89,102.35 L62.98,101.96 L63.07,101.57 L63.17,101.19 L63.26,100.80 L63.35,100.41 L63.45,100.03 L63.55,99.64 L63.64,99.25 L63.74,98.86 L63.84,98.47 L63.94,98.08 L64.05,97.69 L64.15,97.30 L64.25,96.91 L64.36,96.52 L64.47,96.13 L64.58,95.73 L64.69,95.34 L64.80,94.95 L64.92,94.56 L65.03,94.17 L65.15,93.78 L65.28,93.39 L65.40,93.00 L65.53,92.61 L65.67,92.23 L65.80,91.85 L65.95,91.46 L66.09,91.09 L66.24,90.71 L66.40,90.33 L66.56,89.96 L66.72,89.59 L66.90,89.23 L67.07,88.86 L67.26,88.50 L67.45,88.15 L67.64,87.80 L67.85,87.45 L68.06,87.10 L68.27,86.76 L68.50,86.43 L68.73,86.10 L68.97,85.77 L69.22,85.46 L69.47,85.15 L69.73,84.86 L69.99,84.57 L70.26,84.31 L70.54,84.06 L70.82,83.83 L71.10,83.62 L71.39,83.43 L71.68,83.27 L71.98,83.13 L72.28,83.02 L72.57,82.95 L72.88,82.90 L73.18,82.89 L73.48,82.91 L73.78,82.96 L74.09,83.05 L74.39,83.16 L74.69,83.30 L75.00,83.46 L75.30,83.65 L75.60,83.85 L75.90,84.08 L76.20,84.32 L76.49,84.58 L76.79,84.86 L77.08,85.15 L77.37,85.44 L77.65,85.75 L77.93,86.06 L78.21,86.38 L78.48,86.71 L78.75,87.03 L79.01,87.36 L79.27,87.68 L79.53,88.01 L79.78,88.34 L80.03,88.67 L80.27,89.00 L80.51,89.33 L80.74,89.66 L80.98,89.99 L81.20,90.33 L81.43,90.66 L81.65,91.00 L81.86,91.34 L82.08,91.67 L82.29,92.01 L82.49,92.35 L82.69,92.69 L82.89,93.03 L83.09,93.37 L83.29,93.71 L83.48,94.05 L83.66,94.40 L83.85,94.74 L84.03,95.09 L84.21,95.43 L84.39,95.78 L84.56,96.12 L84.74,96.47 L84.91,96.82 L85.08,97.16 L85.24,97.51 L85.41,97.86 L85.57,98.21 L85.73,98.56 L85.89,98.91 L86.04,99.26 L86.20,99.61 L86.35,99.96 L86.51,100.31 L86.66,100.67 L86.81,101.02 L86.95,101.37 L87.10,101.72 L87.25,102.08 L87.39,102.43 L87.54,102.78 L87.68,103.14 L87.82,103.49 L87.96,103.85 L88.11,104.20 L88.25,104.56 L88.39,104.91 L88.53,105.27 L88.67,105.62 L88.81,105.98 L88.95,106.33 L89.08,106.69 L89.22,107.04 L89.36,107.40 L89.50,107.75 L89.64,108.11 L89.78,108.46 L89.92,108.82 L90.06,109.17 L90.20,109.53 L90.34,109.89 L90.48,110.24 L90.62,110.60 L90.76,110.95 L90.90,111.31 L91.04,111.66 L91.18,112.02 L91.33,112.38 L91.47,112.73 L91.61,113.09 L91.75,113.44 L91.89,113.80 L92.03,114.16 L92.17,114.51 L92.31,114.87 L92.46,115.22 L92.60,115.58 L92.74,115.93 L92.88,116.29 L93.02,116.65 L93.17,117.00 L93.31,117.36 L93.45,117.71 L93.60,118.07 L93.74,118.42 L93.88,118.78 L94.03,119.14 L94.17,119.49 L94.31,119.85 L94.46,120.20 L94.60,120.56 L94.74,120.91 L94.89,121.27 L95.03,121.62 L95.18,121.98 L95.32,122.34 L95.47,122.69 L95.61,123.05 L95.76,123.40 L95.90,123.76 L96.05,124.11 L96.20,124.47 L96.34,124.82 L96.49,125.18 L96.64,125.53 L96.78,125.89 L96.93,126.24 L97.08,126.60 L97.22,126.95 L97.37,127.31 L97.52,127.66 L97.67,128.01 L97.82,128.37 L97.97,128.72 L98.11,129.08 L98.26,129.43 L98.41,129.79 L98.56,130.14 L98.71,130.49 L98.86,130.85 L99.01,131.20 L99.16,131.56 L99.31,131.91 L99.47,132.26 L99.62,132.62 L99.77,132.97 L99.92,133.32 L100.07,133.68 L100.22,134.03 L100.38,134.38 L100.53,134.73 L100.68,135.09 L100.84,135.44 L100.99,135.79 L101.14,136.14 L101.30,136.50 L101.45,136.85 L101.61,137.20 L101.76,137.55 L101.92,137.90 L102.07,138.26 L102.23,138.61 L102.39,138.96 L102.54,139.31 L102.70,139.66 L102.86,140.01 L103.02,140.36 L103.17,140.71 L103.33,141.07 L103.49,141.42 L103.65,141.77 L103.81,142.12 L103.97,142.47 L104.13,142.82 L104.29,143.17 L104.45,143.52 L104.61,143.87 L104.77,144.22 L104.93,144.56 L105.09,144.91 L105.26,145.26 L105.42,145.61 L105.58,145.96 L105.74,146.31 L105.91,146.66 L106.07,147.00 L106.24,147.35 L106.40,147.70 L106.57,148.05 L106.73,148.39 L106.90,148.74 L107.06,149.09 L107.23,149.44 L107.40,149.78 L107.56,150.13 L107.73,150.48 L107.90,150.82 L108.07,151.17 L108.24,151.51 L108.41,151.86 L108.58,152.20 L108.75,152.55 L108.92,152.89 L109.09,153.24 L109.26,153.58 L109.43,153.93 L109.60,154.27 L109.77,154.62 L109.95,154.96 L110.12,155.30 L110.29,155.65 L110.47,155.99 L110.64,156.33 L110.82,156.67 L110.99,157.02 L111.17,157.36 L111.35,157.70 L111.52,158.04 L111.70,158.38 L111.88,158.73 L112.06,159.07 L112.24,159.41 L112.41,159.75 L112.59,160.09 L112.77,160.43 L112.95,160.77 L113.14,161.11 L113.32,161.45 L113.50,161.79 L113.68,162.13 L113.86,162.46 L114.05,162.80 L114.23,163.14 L114.41,163.48 L114.60,163.82 L114.78,164.15 L114.97,164.49 L115.16,164.83 L115.34,165.16 L115.53,165.50 L115.72,165.84 L115.91,166.17 L116.09,166.51 L116.28,166.84 L116.47,167.18 L116.66,167.51 L116.85,167.85 L117.05,168.18 L117.24,168.51 L117.43,168.85 L117.62,169.18 L117.82,169.51 L118.01,169.85 L118.20,170.18 L118.40,170.51 L118.59,170.84 L118.79,171.17 L118.99,171.50 L119.18,171.84 L119.38,172.17 L119.58,172.50 L119.78,172.83 L119.98,173.16 L120.18,173.48 L120.38,173.81 L120.58,174.14 L120.78,174.47 L120.98,174.80 L121.18,175.13 L121.39,175.45 L121.59,175.78 L121.79,176.11 L122.00,176.43 L122.20,176.76 L122.41,177.08 L122.61,177.41 L122.82,177.73 L123.03,178.06 L123.23,178.38 L123.44,178.70 L123.65,179.03 L123.86,179.35 L124.07,179.67 L124.28,179.99 L124.49,180.32 L124.70,180.64 L124.92,180.96 L125.13,181.28 L125.34,181.60 L125.55,181.92 L125.77,182.24 L125.98,182.56 L126.20,182.87 L126.42,183.19 L126.63,183.51 L126.85,183.83 L127.07,184.14 L127.28,184.46 L127.50,184.77 L127.72,185.09 L127.94,185.41 L128.16,185.72 L128.38,186.03 L128.61,186.35 L128.83,186.66 L129.05,186.97 L129.27,187.29 L129.50,187.60 L129.72,187.91 L129.95,188.22 L130.17,188.53 L130.40,188.84 L130.62,189.15 L130.85,189.46 L131.08,189.77 L131.31,190.08 L131.54,190.38 L131.77,190.69 L132.00,191.00 L132.23,191.30 L132.46,191.61 L132.69,191.91 L132.92,192.22 L133.16,192.52 L133.39,192.83 L133.63,193.13 L133.86,193.43 L134.10,193.73 L134.33,194.04 L134.57,194.34 L134.81,194.64 L135.04,194.94 L135.28,195.24 L135.52,195.54 L135.76,195.83 L136.00,196.13 L136.24,196.43 L136.48,196.73 L136.73,197.02 L136.97,197.32 L137.21,197.61 L137.45,197.91 L137.70,198.20 L137.94,198.50 L138.19,198.79 L138.44,199.08 L138.68,199.37 L138.93,199.66 L139.18,199.95 L139.43,200.24 L139.68,200.53 L139.93,200.82 L140.18,201.11 L140.43,201.40 L140.68,201.69 L140.93,201.97 L141.19,202.26 L141.44,202.54 L141.69,202.83 L141.95,203.11 L142.20,203.40 L142.46,203.68 L142.72,203.96 L142.97,204.24 L143.23,204.53 L143.49,204.81 L143.75,205.09 L144.01,205.36 L144.27,205.64 L144.53,205.92 L144.79,206.20 L145.06,206.48 L145.32,206.75 L145.58,207.03 L145.85,207.30 L146.11,207.58 L146.38,207.85 L146.64,208.12 L146.91,208.39 L147.18,208.67 L147.45,208.94 L147.72,209.21 L147.99,209.48 L148.26,209.74 L148.53,210.01 L148.80,210.28 L149.07,210.55 L149.34,210.81 L149.62,211.08 L149.89,211.34 L150.17,211.61 L150.44,211.87 L150.72,212.13 L150.99,212.40 L151.27,212.66 L151.55,212.92 L151.83,213.18 L152.11,213.44 L152.39,213.69 L152.67,213.95 L152.95,214.21 L153.23,214.47 L153.51,214.72 L153.80,214.98 L154.08,215.23 L154.36,215.48 L154.65,215.74 L154.94,215.99 L155.22,216.24 L155.51,216.49 L155.80,216.74 L156.09,216.99 L156.37,217.24 L156.66,217.48 L156.96,217.73 L157.25,217.97 L157.54,218.22 L157.83,218.46 L158.12,218.71 L158.42,218.95 L158.71,219.19 L159.01,219.43 L159.30,219.67 L159.60,219.91 L159.90,220.15 L160.20,220.39 L160.50,220.63 L160.80,220.86 L161.10,221.10 L161.40,221.33 L161.70,221.57 L162.00,221.80 L162.30,222.03 L162.61,222.26 L162.91,222.50 L163.22,222.73 L163.52,222.95 L163.83,223.18 L164.14,223.41 L164.44,223.64 L164.75,223.86 L165.06,224.09 L165.37,224.31 L165.68,224.53 L165.99,224.76 L166.30,224.98 L166.62,225.20 L166.93,225.42 L167.24,225.64 L167.56,225.86 L167.87,226.07 L168.19,226.29 L168.51,226.51 L168.82,226.72 L169.14,226.94 L169.46,227.15 L169.78,227.36 L170.10,227.57 L170.42,227.79 L170.74,228.00 L171.06,228.21 L171.38,228.41 L171.70,228.62 L172.03,228.83 L172.35,229.04 L172.67,229.24 L173.00,229.45 L173.32,229.65 L173.65,229.85 L173.98,230.06 L174.30,230.26 L174.63,230.46 L174.96,230.66 L175.29,230.86 L175.62,231.06 L175.95,231.26 L176.28,231.45 L176.61,231.65 L176.94,231.85 L177.27,232.04 L177.60,232.24 L177.93,232.43 L178.26,232.62 L178.60,232.82 L178.93,233.01 L179.27,233.20 L179.60,233.39 L179.94,233.58 L180.27,233.77 L180.61,233.95 L180.94,234.14 L181.28,234.33 L181.62,234.51 L181.96,234.70 L182.29,234.88 L182.63,235.07 L182.97,235.25 L183.31,235.43 L183.65,235.61 L183.99,235.79 L184.33,235.97 L184.67,236.15 L185.01,236.33 L185.35,236.51 L185.70,236.69 L186.04,236.86 L186.38,237.04 L186.72,237.22 L187.07,237.39 L187.41,237.56 L187.75,237.74 L188.10,237.91 L188.44,238.08 L188.79,238.25 L189.13,238.43 L189.48,238.60 L189.82,238.76 L190.17,238.93 L190.52,239.10 L190.86,239.27 L191.21,239.44 L191.56,239.60 L191.90,239.77 L192.25,239.93 L192.60,240.10 L192.95,240.26 L193.30,240.42 L193.64,240.59 L193.99,240.75 L194.34,240.91 L194.69,241.07 L195.04,241.23 L195.39,241.39 L195.74,241.55 L196.09,241.71 L196.44,241.86 L196.79,242.02 L197.14,242.18 L197.49,242.33 L197.85,242.49 L198.20,242.64 L198.55,242.80 L198.90,242.95 L199.25,243.10 L199.61,243.25 L199.96,243.40 L200.31,243.56 L200.66,243.71 L201.02,243.86 L201.37,244.00 L201.73,244.15 L202.08,244.30 L202.43,244.45 L202.79,244.60 L203.14,244.74 L203.50,244.89 L203.85,245.03 L204.21,245.18 L204.56,245.32 L204.92,245.46 L205.28,245.61 L205.63,245.75 L205.99,245.89 L206.35,246.03 L206.70,246.17 L207.06,246.31 L207.42,246.45 L207.77,246.59 L208.13,246.73 L208.49,246.87 L208.85,247.00 L209.21,247.14 L209.56,247.28 L209.92,247.41 L210.28,247.55 L210.64,247.68 L211.00,247.82 L211.36,247.95 L211.72,248.08 L212.08,248.21 L212.44,248.35 L212.80,248.48 L213.16,248.61 L213.52,248.74 L213.88,248.87 L214.24,249.00 L214.60,249.13 L214.96,249.26 L215.32,249.38 L215.69,249.51 L216.05,249.64 L216.41,249.76 L216.77,249.89 L217.13,250.01 L217.50,250.14 L217.86,250.26 L218.22,250.39 L218.59,250.51 L218.95,250.63 L219.31,250.76 L219.68,250.88 L220.04,251.00 L220.40,251.12 L220.77,251.24 L221.13,251.36 L221.50,251.48 L221.86,251.60 L222.23,251.72 L222.59,251.83 L222.95,251.95 L223.32,252.07 L223.69,252.19 L224.05,252.30 L224.42,252.42 L224.78,252.53 L225.15,252.65 L225.51,252.76 L225.88,252.88 L226.25,252.99 L226.61,253.10 L226.98,253.21 L227.35,253.33 L227.71,253.44 L228.08,253.55 L228.45,253.66 L228.82,253.77 L229.18,253.88 L229.55,253.99 L229.92,254.10 L230.29,254.21 L230.65,254.32 L231.02,254.42 L231.39,254.53 L231.76,254.64 L232.13,254.74 L232.50,254.85 L232.87,254.96 L233.23,255.06 L233.60,255.17 L233.97,255.27 L234.34,255.37 L234.71,255.48 L235.08,255.58 L235.45,255.68 L235.82,255.79 L236.19,255.89 L236.56,255.99 L236.93,256.09 L237.30,256.19 L237.67,256.29 L238.04,256.39 L238.41,256.49 L238.78,256.59 L239.16,256.69 L239.53,256.79 L239.90,256.88 L240.27,256.98 L240.64,257.08 L241.01,257.18 L241.38,257.27 L241.75,257.37 L242.13,257.47 L242.50,257.56 L242.87,257.66 L243.24,257.75 L243.61,257.84 L243.99,257.94 L244.36,258.03 L244.73,258.13 L245.10,258.22 L245.48,258.31 L245.85,258.40 L246.22,258.50 L246.60,258.59 L246.97,258.68 L247.34,258.77 L247.71,258.86 L248.09,258.95 L248.46,259.04 L248.83,259.13 L249.21,259.22 L249.58,259.31 L249.96,259.40 L250.33,259.48 L250.70,259.57 L251.08,259.66 L251.45,259.75 L251.83,259.83 L252.20,259.92 L252.57,260.01 L252.95,260.09 L253.32,260.18 L253.70,260.26 L254.07,260.35 L254.45,260.43 L254.82,260.52 L255.20,260.60 L255.57,260.68 L255.95,260.77 L256.32,260.85 L256.70,260.93 L257.07,261.02 L257.45,261.10 L257.82,261.18 L258.20,261.26 L258.57,261.34 L258.95,261.43 L259.32,261.51 L259.70,261.59 L260.07,261.67 L260.45,261.75 L260.82,261.83 L261.20,261.91 L261.58,261.99 L261.95,262.07 L262.33,262.14 L262.70,262.22 L263.08,262.30 L263.46,262.38 L263.83,262.46 L264.21,262.53 L264.58,262.61 L264.96,262.69 L265.34,262.77 L265.71,262.84 L266.09,262.92 L266.47,262.99 L266.84,263.07 L267.22,263.15 L267.59,263.22 L267.97,263.30 L268.35,263.37 L268.72,263.45 L269.10,263.52 L269.48,263.59 L269.85,263.67 L270.23,263.74 L270.61,263.81 L270.98,263.89 L271.36,263.96 L271.74,264.03 L272.11,264.10 L272.49,264.18 L272.87,264.25 L273.25,264.32 L273.62,264.39 L274.00,264.46 L274.38,264.53 L274.75,264.60 L275.13,264.68 L275.51,264.75 L275.89,264.82 L276.26,264.89 L276.64,264.96 L277.02,265.02 L277.40,265.09 L277.77,265.16 L278.15,265.23 L278.53,265.30 L278.91,265.37 L279.28,265.44 L279.66,265.50 L280.04,265.57 L280.42,265.64 L280.79,265.71 L281.17,265.77 L281.55,265.84 L281.93,265.91 L282.30,265.97 L282.68,266.04 L283.06,266.10 L283.44,266.17 L283.82,266.24 L284.19,266.30 L284.57,266.37 L284.95,266.43 L285.33,266.50 L285.71,266.56 L286.09,266.62 L286.46,266.69 L286.84,266.75 L287.22,266.81 L287.60,266.88 L287.98,266.94 L288.36,267.00 L288.73,267.07 L289.11,267.13 L289.49,267.19 L289.87,267.25 L290.25,267.32 L290.63,267.38 L291.01,267.44 L291.38,267.50 L291.76,267.56 L292.14,267.62 L292.52,267.68 L292.90,267.74 L293.28,267.81 L293.66,267.87 L294.04,267.93 L294.42,267.99 L294.79,268.04 L295.17,268.10 L295.55,268.16 L295.93,268.22 L296.31,268.28 L296.69,268.34 L297.07,268.40 L297.45,268.46 L297.83,268.52 L298.21,268.57 L298.59,268.63 L298.97,268.69 L299.34,268.75 L299.72,268.80 L300.10,268.86 L300.48,268.92 L300.86,268.97 L301.24,269.03 L301.62,269.09 L302.00,269.14 L302.38,269.20 L302.76,269.26 L303.14,269.31 L303.52,269.37 L303.90,269.42 L304.28,269.48 L304.66,269.53 L305.04,269.59 L305.42,269.64 L305.80,269.70 L306.18,269.75 L306.56,269.80 L306.94,269.86 L307.32,269.91 L307.70,269.97 L308.08,270.02 L308.46,270.07 L308.84,270.13 L309.22,270.18 L309.60,270.23 L309.98,270.29 L310.36,270.34 L310.74,270.39 L311.12,270.44 L311.50,270.50 L311.88,270.55 L312.26,270.60 L312.64,270.65 L313.02,270.70 L313.40,270.75 L313.78,270.80 L314.16,270.86 L314.54,270.91 L314.92,270.96 L315.30,271.01 L315.68,271.06 L316.06,271.11 L316.44,271.16 L316.83,271.21 L317.21,271.26 L317.59,271.31 L317.97,271.36 L318.35,271.41 L318.73,271.46 L319.11,271.51 L319.49,271.56 L319.87,271.61 L320.25,271.65 L320.63,271.70 L321.01,271.75 L321.39,271.80 L321.77,271.85 L322.16,271.90 L322.54,271.94 L322.92,271.99 L323.30,272.04 L323.68,272.09 L324.06,272.14 L324.44,272.18 L324.82,272.23 L325.20,272.28 L325.59,272.32 L325.97,272.37 L326.35,272.42 L326.73,272.46 L327.11,272.51 L327.49,272.56 L327.87,272.60 L328.25,272.65 L328.63,272.70 L329.02,272.74 L329.40,272.79 L329.78,272.83 L330.16,272.88 L330.54,272.92 L330.92,272.97 L331.30,273.02" stroke="#00ff00"/>
<path d="M30.80,305.70 L31.03,305.44 L31.27,305.17 L31.49,304.91 L31.72,304.64 L31.94,304.37 L32.15,304.10 L32.37,303.83 L32.58,303.56 L32.78,303.28 L32.99,303.01 L33.19,302.73 L33.39,302.45 L33.58,302.17 L33.77,301.89 L33.96,301.60 L34.14,301.32 L34.33,301.03 L34.51,300.74 L34.68,300.45 L34.85,300.16 L35.03,299.87 L35.19,299.57 L35.36,299.28 L35.52,298.98 L35.68,298.68 L35.84,298.38 L35.99,298.08 L36.14,297.78 L36.29,297.48 L36.44,297.18 L36.58,296.87 L36.73,296.57 L36.87,296.26 L37.00,295.95 L37.14,295.64 L37.27,295.33 L37.40,295.02 L37.53,294.71 L37.66,294.39 L37.78,294.08 L37.90,293.77 L38.02,293.45 L38.14,293.13 L38.26,292.81 L38.37,292.50 L38.49,292.18 L38.60,291.86 L38.71,291.53 L38.81,291.21 L38.92,290.89 L39.03,290.57 L39.13,290.24 L39.23,289.92 L39.33,289.59 L39.43,289.26 L39.52,288.94 L39.62,288.61 L39.71,288.28 L39.81,287.95 L39.90,287.62 L39.99,287.29 L40.08,286.96 L40.17,286.63 L40.25,286.30 L40.34,285.97 L40.42,285.64 L40.51,285.31 L40.59,284.97 L40.67,284.64 L40.75,284.31 L40.83,283.97 L40.91,283.64 L40.99,283.30 L41.07,282.97 L41.15,282.63 L41.23,282.30 L41.30,281.96 L41.38,281.63 L41.45,281.29 L41.53,280.95 L41.60,280.62 L41.68,280.28 L41.75,279.94 L41.82,279.61 L41.90,279.27 L41.97,278.94 L42.04,278.60 L42.11,278.26 L42.19,277.93 L42.26,277.59 L42.33,277.25 L42.40,276.91 L42.47,276.58 L42.54,276.24 L42.62,275.90 L42.69,275.57 L42.76,275.23 L42.83,274.89 L42.90,274.56 L42.97,274.22 L43.04,273.88 L43.11,273.55 L43.18,273.21 L43.25,272.87 L43.32,272.54 L43.39,272.20 L43.45,271.86 L43.52,271.52 L43.59,271.19 L43.66,270.85 L43.73,270.51 L43.80,270.18 L43.86,269.84 L43.93,269.50 L44.00,269.17 L44.07,268.83 L44.13,268.49 L44.20,268.15 L44.27,267.82 L44.33,267.48 L44.40,267.14 L44.47,266.81 L44.53,266.47 L44.60,266.13 L44.67,265.79 L44.73,265.46 L44.80,265.12 L44.86,264.78 L44.93,264.44 L44.99,264.11 L45.06,263.77 L45.12,263.43 L45.19,263.10 L45.25,262.76 L45.32,262.42 L45.38,262.08 L45.44,261.75 L45.51,261.41 L45.57,261.07 L45.63,260.73 L45.70,260.40 L45.76,260.06 L45.82,259.72 L45.89,259.38 L45.95,259.05 L46.01,258.71 L46.07,258.37 L46.14,258.03 L46.20,257.69 L46.26,257.36 L46.32,257.02 L46.38,256.68 L46.44,256.34 L46.51,256.01 L46.57,255.67 L46.63,255.33 L46.69,254.99 L46.75,254.66 L46.81,254.32 L46.87,253.98 L46.93,253.64 L46.99,253.30 L47.05,252.97 L47.11,252.63 L47.17,252.29 L47.23,251.95 L47.29,251.61 L47.35,251.28 L47.41,250.94 L47.47,250.60 L47.53,250.26 L47.58,249.92 L47.64,249.59 L47.70,249.25 L47.76,248.91 L47.82,248.57 L47.88,248.23 L47.93,247.90 L47.99,247.56 L48.05,247.22 L48.11,246.88 L48.16,246.54 L48.22,246.21 L48.28,245.87 L48.34,245.53 L48.39,245.19 L48.45,244.85 L48.51,244.51 L48.56,244.18 L48.62,243.84 L48.68,243.50 L48.73,243.16 L48.79,242.82 L48.84,242.48 L48.90,242.15 L48.95,241.81 L49.01,241.47 L49.07,241.13 L49.12,240.79 L49.18,240.45 L49.23,240.12 L49.29,239.78 L49.34,239.44 L49.40,239.10 L49.45,238.76 L49.50,238.42 L49.56,238.08 L49.61,237.75 L49.67,237.41 L49.72,237.07 L49.77,236.73 L49.83,236.39 L49.88,236.05 L49.94,235.71 L49.99,235.37 L50.04,235.04 L50.10,234.70 L50.15,234.36 L50.20,234.02 L50.26,233.68 L50.31,233.34 L50.36,233.00 L50.41,232.66 L50.47,232.33 L50.52,231.99 L50.57,231.65 L50.62,231.31 L50.67,230.97 L50.73,230.63 L50.78,230.29 L50.83,229.95 L50.88,229.61 L50.93,229.28 L50.99,228.94 L51.04,228.60 L51.09,228.26 L51.14,227.92 L51.19,227.58 L51.24,227.24 L51.29,226.90 L51.34,226.56 L51.39,226.22 L51.44,225.89 L51.49,225.55 L51.55,225.21 L51.60,224.87 L51.65,224.53 L51.70,224.19 L51.75,223.85 L51.80,223.51 L51.85,223.17 L51.90,222.83 L51.95,222.49 L52.00,222.15 L52.05,221.81 L52.10,221.48 L52.15,221.14 L52.20,220.80 L52.24,220.46 L52.29,220.12 L52.34,219.78 L52.39,219.44 L52.44,219.10 L52.49,218.76 L52.54,218.42 L52.59,218.08 L52.64,217.74 L52.69,217.40 L52.74,217.06 L52.79,216.72 L52.84,216.38 L52.89,216.04 L52.94,215.71 L52.98,215.37 L53.03,215.03 L53.08,214.69 L53.13,214.35 L53.18,214.01 L53.23,213.67 L53.28,213.33 L53.33,212.99 L53.38,212.65 L53.43,212.31 L53.48,211.97 L53.52,211.63 L53.57,211.29 L53.62,210.95 L53.67,210.61 L53.72,210.27 L53.77,209.93 L53.82,209.59 L53.87,209.25 L53.92,208.91 L53.97,208.57 L54.02,208.24 L54.07,207.90 L54.12,207.56 L54.17,207.22 L54.22,206.88 L54.26,206.54 L54.31,206.20 L54.36,205.86 L54.41,205.52 L54.46,205.18 L54.51,204.84 L54.56,204.50 L54.61,204.16 L54.66,203.82 L54.71,203.48 L54.76,203.14 L54.81,202.80 L54.87,202.46 L54.92,202.12 L54.97,201.78 L55.02,201.44 L55.07,201.10 L55.12,200.76 L55.17,200.43 L55.22,200.09 L55.27,199.75 L55.32,199.41 L55.37,199.07 L55.43,198.73 L55.48,198.39 L55.53,198.05 L55.58,197.71 L55.63,197.37 L55.68,197.03 L55.74,196.69 L55.79,196.35 L55.84,196.01 L55.89,195.67 L55.95,195.33 L56.00,194.99 L56.05,194.65 L56.10,194.31 L56.16,193.97 L56.21,193.64 L56.26,193.30 L56.32,192.96 L56.37,192.62 L56.43,192.28 L56.48,191.94 L56.53,191.60 L56.59,191.26 L56.64,190.92 L56.70,190.58 L56.75,190.24 L56.81,189.90 L56.86,189.56 L56.92,189.22 L56.97,188.88 L57.03,188.54 L57.08,188.21 L57.14,187.87 L57.20,187.53 L57.25,187.19 L57.31,186.85 L57.37,186.51 L57.42,186.17 L57.48,185.83 L57.54,185.49 L57.60,185.15 L57.65,184.81 L57.71,184.47 L57.77,184.14 L57.83,183.80 L57.89,183.46 L57.94,183.12 L58.00,182.78 L58.06,182.44 L58.12,182.10 L58.18,181.76 L58.24,181.42 L58.30,181.09 L58.36,180.75 L58.42,180.41 L58.48,180.07 L58.54,179.73 L58.60,179.39 L58.67,179.05 L58.73,178.72 L58.79,178.38 L58.85,178.04 L58.91,177.70 L58.97,177.36 L59.04,177.02 L59.10,176.69 L59.16,176.35 L59.22,176.01 L59.29,175.67 L59.35,175.33 L59.41,174.99 L59.48,174.66 L59.54,174.32 L59.61,173.98 L59.67,173.64 L59.74,173.31 L59.80,172.97 L59.87,172.63 L59.93,172.29 L60.00,171.96 L60.06,171.62 L60.13,171.28 L60.20,170.94 L60.26,170.61 L60.33,170.27 L60.40,169.93 L60.46,169.60 L60.53,169.26 L60.60,168.92 L60.67,168.59 L60.73,168.25 L60.80,167.91 L60.87,167.58 L60.94,167.24 L61.01,166.91 L61.08,166.57 L61.15,166.23 L61.22,165.90 L61.29,165.56 L61.36,165.23 L61.43,164.89 L61.50,164.55 L61.57,164.22 L61.64,163.88 L61.71,163.55 L61.78,163.21 L61.85,162.88 L61.92,162.54 L61.99,162.21 L62.06,161.87 L62.13,161.54 L62.21,161.20 L62.28,160.87 L62.35,160.54 L62.42,160.20 L62.49,159.87 L62.56,159.53 L62.63,159.20 L62.70,158.86 L62.77,158.53 L62.85,158.20 L62.92,157.86 L62.99,157.53 L63.06,157.20 L63.13,156.86 L63.20,156.53 L63.27,156.20 L63.34,155.86 L63.41,155.53 L63.48,155.20 L63.55,154.86 L63.61,154.53 L63.68,154.20 L63.75,153.87 L63.82,153.53 L63.89,153.20 L63.96,152.87 L64.02,152.54 L64.09,152.21 L64.16,151.87 L64.22,151.54 L64.29,151.21 L64.35,150.88 L64.42,150.55 L64.48,150.22 L64.55,149.88 L64.61,149.55 L64.68,149.22 L64.74,148.89 L64.80,148.56 L64.86,148.23 L64.93,147.90 L64.99,147.57 L65.05,147.24 L65.11,146.91 L65.17,146.57 L65.23,146.24 L65.29,145.91 L65.34,145.58 L65.40,145.25 L65.46,144.92 L65.52,144.59 L65.58,144.26 L65.63,143.93 L65.69,143.60 L65.75,143.27 L65.81,142.94 L65.87,142.61 L65.93,142.28 L65.99,141.95 L66.04,141.62 L66.10,141.29 L66.17,140.96 L66.23,140.62 L66.29,140.29 L66.35,139.96 L66.41,139.63 L66.48,139.29 L66.54,138.96 L66.61,138.63 L66.68,138.30 L66.75,137.96 L66.81,137.63 L66.89,137.29 L66.96,136.96 L67.03,136.62 L67.11,136.29 L67.18,135.95 L67.26,135.62 L67.34,135.28 L67.42,134.94 L67.50,134.60 L67.58,134.27 L67.67,133.93 L67.76,133.59 L67.85,133.25 L67.94,132.91 L68.03,132.57 L68.13,132.22 L68.23,131.88 L68.33,131.54 L68.43,131.20 L68.54,130.85 L68.64,130.51 L68.75,130.16 L68.87,129.81 L68.98,129.47 L69.10,129.12 L69.22,128.77 L69.34,128.42 L69.47,128.07 L69.60,127.72 L69.73,127.37 L69.86,127.02 L70.00,126.67 L70.14,126.31 L70.29,125.96 L70.43,125.60 L70.58,125.25 L70.74,124.90 L70.90,124.54 L71.06,124.19 L71.22,123.85 L71.39,123.50 L71.56,123.16 L71.73,122.82 L71.91,122.48 L72.09,122.15 L72.28,121.82 L72.47,121.49 L72.66,121.18 L72.86,120.86 L73.06,120.55 L73.26,120.25 L73.47,119.96 L73.68,119.67 L73.90,119.39 L74.11,119.12 L74.34,118.85 L74.57,118.60 L74.80,118.35 L75.03,118.11 L75.27,117.88 L75.52,117.66 L75.76,117.45 L76.01,117.25 L76.26,117.07 L76.52,116.89 L76.77,116.72 L77.03,116.57 L77.29,116.42 L77.55,116.29 L77.82,116.17 L78.08,116.06 L78.34,115.97 L78.61,115.89 L78.88,115.82 L79.14,115.76 L79.41,115.72 L79.68,115.69 L79.94,115.68 L80.21,115.68 L80.47,115.70 L80.73,115.73 L81.00,115.77 L81.26,115.83 L81.52,115.90 L81.78,115.98 L82.04,116.07 L82.30,116.18 L82.56,116.29 L82.82,116.42 L83.08,116.56 L83.33,116.71 L83.59,116.87 L83.84,117.04 L84.10,117.23 L84.35,117.42 L84.60,117.61 L84.85,117.82 L85.10,118.04 L85.35,118.26 L85.60,118.50 L85.85,118.74 L86.10,118.99 L86.34,119.24 L86.59,119.50 L86.83,119.77 L87.07,120.04 L87.31,120.32 L87.55,120.61 L87.79,120.90 L88.03,121.19 L88.27,121.49 L88.51,121.80 L88.74,122.10 L88.97,122.41 L89.21,122.73 L89.44,123.05 L89.67,123.37 L89.90,123.69 L90.13,124.01 L90.35,124.34 L90.58,124.67 L90.80,124.99 L91.03,125.32 L91.25,125.65 L91.47,125.98 L91.69,126.31 L91.91,126.64 L92.12,126.97 L92.34,127.30 L92.55,127.63 L92.77,127.95 L92.98,128.28 L93.19,128.60 L93.40,128.92 L93.60,129.24 L93.81,129.57 L94.02,129.89 L94.22,130.21 L94.42,130.52 L94.62,130.84 L94.83,131.16 L95.02,131.47 L95.22,131.79 L95.42,132.10 L95.62,132.42 L95.81,132.73 L96.01,133.04 L96.20,133.35 L96.39,133.67 L96.58,133.98 L96.77,134.28 L96.96,134.59 L97.15,134.90 L97.34,135.21 L97.52,135.52 L97.71,135.82 L97.89,136.13 L98.08,136.43 L98.26,136.74 L98.44,137.04 L98.62,137.34 L98.80,137.64 L98.98,137.95 L99.16,138.25 L99.34,138.55 L99.52,138.85 L99.70,139.15 L99.87,139.45 L100.05,139.75 L100.22,140.04 L100.40,140.34 L100.57,140.64 L100.74,140.94 L100.91,141.23 L101.08,141.53 L101.26,141.82 L101.43,142.12 L101.60,142.41 L101.76,142.71 L101.93,143.00 L102.10,143.30 L102.27,143.59 L102.44,143.88 L102.60,144.18 L102.77,144.47 L102.93,144.76 L103.10,145.05 L103.27,145.34 L103.43,145.64 L103.59,145.93 L103.76,146.22 L103.92,146.51 L104.09,146.80 L104.25,147.09 L104.41,147.38 L104.57,147.67 L104.74,147.96 L104.90,148.25 L105.06,148.54 L105.22,148.83 L105.38,149.12 L105.54,149.41 L105.70,149.70 L105.86,149.98 L106.03,150.27 L106.19,150.56 L106.35,150.85 L106.51,151.14 L106.67,151.43 L106.83,151.72 L106.99,152.01 L107.15,152.30 L107.31,152.58 L107.47,152.87 L107.63,153.16 L107.79,153.45 L107.95,153.74 L108.11,154.03 L108.27,154.32 L108.43,154.61 L108.59,154.90 L108.75,155.19 L108.91,155.48 L109.08,155.77 L109.24,156.06 L109.40,156.35 L109.56,156.64 L109.72,156.93 L109.89,157.22 L110.05,157.51 L110.21,157.80 L110.37,158.09 L110.54,158.39 L110.70,158.68 L110.87,158.97 L111.03,159.26 L111.19,159.55 L111.36,159.85 L111.52,160.14 L111.69,160.43 L111.85,160.73 L112.02,161.02 L112.19,161.31 L112.35,161.61 L112.52,161.90 L112.69,162.19 L112.85,162.49 L113.02,162.78 L113.19,163.07 L113.36,163.37 L113.52,163.66 L113.69,163.96 L113.86,164.25 L114.03,164.55 L114.20,164.84 L114.37,165.13 L114.54,165.43 L114.71,165.72 L114.88,166.02 L115.05,166.31 L115.22,166.61 L115.39,166.90 L115.57,167.20 L115.74,167.49 L115.91,167.79 L116.08,168.08 L116.26,168.38 L116.43,168.67 L116.61,168.97 L116.78,169.26 L116.95,169.56 L117.13,169.85 L117.30,170.15 L117.48,170.44 L117.66,170.73 L117.83,171.03 L118.01,171.32 L118.19,171.62 L118.36,171.91 L118.54,172.21 L118.72,172.50 L118.90,172.80 L119.08,173.09 L119.26,173.38 L119.44,173.68 L119.62,173.97 L119.80,174.27 L119.98,174.56 L120.16,174.85 L120.34,175.15 L120.52,175.44 L120.70,175.73 L120.89,176.03 L121.07,176.32 L121.25,176.61 L121.44,176.90 L121.62,177.20 L121.81,177.49 L121.99,177.78 L122.18,178.07 L122.36,178.36 L122.55,178.66 L122.73,178.95 L122.92,179.24 L123.11,179.53 L123.30,179.82 L123.49,180.11 L123.67,180.40 L123.86,180.69 L124.05,180.98 L124.24,181.27 L124.43,181.56 L124.62,181.85 L124.82,182.14 L125.01,182.43 L125.20,182.72 L125.39,183.00 L125.59,183.29 L125.78,183.58 L125.97,183.87 L126.17,184.15 L126.36,184.44 L126.56,184.73 L126.76,185.01 L126.95,185.30 L127.15,185.59 L127.35,185.87 L127.54,186.16 L127.74,186.44 L127.94,186.72 L128.14,187.01 L128.34,187.29 L128.54,187.57 L128.74,187.86 L128.94,188.14 L129.14,188.42 L129.35,188.70 L129.55,188.99 L129.75,189.27 L129.96,189.55 L130.16,189.83 L130.36,190.11 L130.57,190.39 L130.77,190.67 L130.98,190.94 L131.19,191.22 L131.40,191.50 L131.60,191.78 L131.81,192.05 L132.02,192.33 L132.23,192.61 L132.44,192.88 L132.65,193.16 L132.86,193.43 L133.07,193.71 L133.28,193.98 L133.50,194.25 L133.71,194.53 L133.92,194.80 L134.14,195.07 L134.35,195.34 L134.57,195.61 L134.78,195.88 L135.00,196.15 L135.22,196.42 L135.43,196.69 L135.65,196.96 L135.87,197.23 L136.09,197.49 L136.31,197.76 L136.53,198.03 L136.75,198.29 L136.97,198.56 L137.20,198.82 L137.42,199.08 L137.64,199.35 L137.87,199.61 L138.09,199.87 L138.32,200.13 L138.54,200.39 L138.77,200.65 L138.99,200.91 L139.22,201.17 L139.45,201.43 L139.68,201.69 L139.91,201.95 L140.14,202.20 L140.37,202.46 L140.60,202.71 L140.83,202.97 L141.06,203.22 L141.30,203.48 L141.53,203.73 L141.76,203.98 L142.00,204.23 L142.23,204.48 L142.47,204.73 L142.71,204.98 L142.94,205.23 L143.18,205.48 L143.42,205.73 L143.66,205.97 L143.90,206.22 L144.14,206.46 L144.38,206.71 L144.62,206.95 L144.86,207.20 L145.11,207.44 L145.35,207.68 L145.59,207.93 L145.84,208.17 L146.08,208.41 L146.33,208.65 L146.57,208.89 L146.82,209.13 L147.06,209.36 L147.31,209.60 L147.56,209.84 L147.81,210.07 L148.06,210.31 L148.31,210.54 L148.56,210.78 L148.81,211.01 L149.06,211.25 L149.31,211.48 L149.56,211.71 L149.82,211.94 L150.07,212.17 L150.32,212.40 L150.58,212.63 L150.83,212.86 L151.09,213.09 L151.35,213.32 L151.60,213.54 L151.86,213.77 L152.12,214.00 L152.38,214.22 L152.63,214.45 L152.89,214.67 L153.15,214.89 L153.41,215.12 L153.67,215.34 L153.93,215.56 L154.20,215.78 L154.46,216.00 L154.72,216.22 L154.98,216.44 L155.25,216.66 L155.51,216.88 L155.78,217.09 L156.04,217.31 L156.31,217.53 L156.57,217.74 L156.84,217.96 L157.11,218.17 L157.38,218.39 L157.64,218.60 L157.91,218.81 L158.18,219.02 L158.45,219.24 L158.72,219.45 L158.99,219.66 L159.26,219.87 L159.53,220.08 L159.80,220.29 L160.08,220.49 L160.35,220.70 L160.62,220.91 L160.90,221.11 L161.17,221.32 L161.44,221.52 L161.72,221.73 L161.99,221.93 L162.27,222.14 L162.55,222.34 L162.82,222.54 L163.10,222.74 L163.38,222.94 L163.66,223.14 L163.93,223.34 L164.21,223.54 L164.49,223.74 L164.77,223.94 L165.05,224.14 L165.33,224.33 L165.61,224.53 L165.89,224.73 L166.18,224.92 L166.46,225.12 L166.74,225.31 L167.02,225.50 L167.31,225.70 L167.59,225.89 L167.87,226.08 L168.16,226.27 L168.44,226.46 L168.73,226.65 L169.02,226.84 L169.30,227.03 L169.59,227.22 L169.87,227.41 L170.16,227.60 L170.45,227.78 L170.74,227.97 L171.03,228.15 L171.31,228.34 L171.60,228.52 L171.89,228.71 L172.18,228.89 L172.47,229.07 L172.76,229.26 L173.05,229.44 L173.35,229.62 L173.64,229.80 L173.93,229.98 L174.22,230.16 L174.52,230.34 L174.81,230.52 L175.10,230.70 L175.40,230.87 L175.69,231.05 L175.98,231.23 L176.28,231.40 L176.57,231.58 L176.87,231.75 L177.17,231.93 L177.46,232.10 L177.76,232.27 L178.05,232.45 L178.35,232.62 L178.65,232.79 L178.95,232.96 L179.25,233.13 L179.54,233.30 L179.84,233.47 L180.14,233.64 L180.44,233.81 L180.74,233.97 L181.04,234.14 L181.34,234.31 L181.64,234.47 L181.94,234.64 L182.24,234.80 L182.54,234.97 L182.85,235.13 L183.15,235.30 L183.45,235.46 L183.75,235.62 L184.06,235.78 L184.36,235.94 L184.66,236.11 L184.97,236.27 L185.27,236.43 L185.58,236.58 L185.88,236.74 L186.19,236.90 L186.49,237.06 L186.80,237.22 L187.10,237.37 L187.41,237.53 L187.71,237.68 L188.02,237.84 L188.33,237.99 L188.63,238.15 L188.94,238.30 L189.25,238.45 L189.56,238.61 L189.86,238.76 L190.17,238.91 L190.48,239.06 L190.79,239.21 L191.10,239.36 L191.41,239.51 L191.72,239.66 L192.03,239.81 L192.34,239.96 L192.65,240.10 L192.96,240.25 L193.27,240.40 L193.58,240.54 L193.89,240.69 L194.20,240.83 L194.51,240.98 L194.82,241.12 L195.14,241.27 L195.45,241.41 L195.76,241.55 L196.07,241.69 L196.39,241.83 L196.70,241.98 L197.01,242.12 L197.33,242.26 L197.64,242.40 L197.95,242.53 L198.27,242.67 L198.58,242.81 L198.90,242.95 L199.21,243.08 L199.53,243.22 L199.84,243.36 L200.16,243.49 L200.47,243.63 L200.79,243.76 L201.10,243.90 L201.42,244.03 L201.73,244.16 L202.05,244.30 L202.37,244.43 L202.68,244.56 L203.00,244.69 L203.32,244.82 L203.63,244.95 L203.95,245.08 L204.27,245.21 L204.59,245.34 L204.90,245.47 L205.22,245.60 L205.54,245.72 L205.86,245.85 L206.18,245.98 L206.50,246.10 L206.82,246.23 L207.13,246.36 L207.45,246.48 L207.77,246.60 L208.09,246.73 L208.41,246.85 L208.73,246.97 L209.05,247.10 L209.37,247.22 L209.69,247.34 L210.01,247.46 L210.33,247.58 L210.66,247.70 L210.98,247.82 L211.30,247.94 L211.62,248.06 L211.94,248.18 L212.26,248.30 L212.58,248.42 L212.91,248.53 L213.23,248.65 L213.55,248.77 L213.87,248.88 L214.20,249.00 L214.52,249.12 L214.84,249.23 L215.17,249.34 L215.49,249.46 L215.81,249.57 L216.14,249.69 L216.46,249.80 L216.78,249.91 L217.11,250.02 L217.43,250.13 L217.76,250.25 L218.08,250.36 L218.41,250.47 L218.73,250.58 L219.05,250.69 L219.38,250.80 L219.70,250.90 L220.03,251.01 L220.36,251.12 L220.68,251.23 L221.01,251.34 L221.33,251.44 L221.66,251.55 L221.98,251.66 L222.31,251.76 L222.64,251.87 L222.96,251.97 L223.29,252.08 L223.62,252.18 L223.94,252.28 L224.27,252.39 L224.60,252.49 L224.93,252.59 L225.25,252.70 L225.58,252.80 L225.91,252.90 L226.24,253.00 L226.56,253.10 L226.89,253.20 L227.22,253.30 L227.55,253.40 L227.88,253.50 L228.21,253.60 L228.53,253.70 L228.86,253.80 L229.19,253.90 L229.52,253.99 L229.85,254.09 L230.18,254.19 L230.51,254.28 L230.84,254.38 L231.17,254.48 L231.50,254.57 L231.83,254.67 L232.16,254.76 L232.49,254.86 L232.82,254.95 L233.15,255.05 L233.48,255.14 L233.81,255.23 L234.14,255.32 L234.47,255.42 L234.80,255.51 L235.13,255.60 L235.46,255.69 L235.79,255.78 L236.12,255.88 L236.45,255.97 L236.79,256.06 L237.12,256.15 L237.45,256.24 L237.78,256.33 L238.11,256.42 L238.44,256.50 L238.77,256.59 L239.11,256.68 L239.44,256.77 L239.77,256.86 L240.10,256.94 L240.44,257.03 L240.77,257.12 L241.10,257.20 L241.43,257.29 L241.77,257.37 L242.10,257.46 L242.43,257.55 L242.76,257.63 L243.10,257.72 L243.43,257.80 L243.76,257.88 L244.10,257.97 L244.43,258.05 L244.76,258.13 L245.10,258.22 L245.43,258.30 L245.76,258.38 L246.10,258.46 L246.43,258.55 L246.76,258.63 L247.10,258.71 L247.43,258.79 L247.77,258.87 L248.10,258.95 L248.43,259.03 L248.77,259.11 L249.10,259.19 L249.44,259.27 L249.77,259.35 L250.11,259.43 L250.44,259.51 L250.77,259.58 L251.11,259.66 L251.44,259.74 L251.78,259.82 L252.11,259.89 L252.45,259.97 L252.78,260.05 L253.12,260.13 L253.45,260.20 L253.79,260.28 L254.12,260.35 L254.46,260.43 L254.79,260.50 L255.13,260.58 L255.46,260.65 L255.80,260.73 L256.14,260.80 L256.47,260.88 L256.81,260.95 L257.14,261.03 L257.48,261.10 L257.81,261.17 L258.15,261.24 L258.48,261.32 L258.82,261.39 L259.16,261.46 L259.49,261.53 L259.83,261.61 L260.16,261.68 L260.50,261.75 L260.84,261.82 L261.17,261.89 L261.51,261.96 L261.84,262.03 L262.18,262.10 L262.52,262.17 L262.85,262.24 L263.19,262.31 L263.53,262.38 L263.86,262.45 L264.20,262.52 L264.53,262.59 L264.87,262.66 L265.21,262.73 L265.54,262.80 L265.88,262.87 L266.22,262.93 L266.55,263.00 L266.89,263.07 L267.23,263.14 L267.56,263.20 L267.90,263.27 L268.24,263.34 L268.57,263.41 L268.91,263.47 L269.25,263.54 L269.58,263.60 L269.92,263.67 L270.26,263.74 L270.59,263.80 L270.93,263.87 L271.27,263.93 L271.60,264.00 L271.94,264.06 L272.28,264.13 L272.61,264.19 L272.95,264.26 L273.29,264.32 L273.63,264.38 L273.96,264.45 L274.30,264.51 L274.64,264.57 L274.97,264.64 L275.31,264.70 L275.65,264.76 L275.99,264.83 L276.32,264.89 L276.66,264.95 L277.00,265.01 L277.33,265.08 L277.67,265.14 L278.01,265.20 L278.35,265.26 L278.68,265.32 L279.02,265.38 L279.36,265.44 L279.70,265.50 L280.03,265.56 L280.37,265.63 L280.71,265.69 L281.05,265.75 L281.38,265.81 L281.72,265.87 L282.06,265.92 L282.40,265.98 L282.74,266.04 L283.07,266.10 L283.41,266.16 L283.75,266.22 L284.09,266.28 L284.43,266.34 L284.76,266.39 L285.10,266.45 L285.44,266.51 L285.78,266.57 L286.12,266.63 L286.45,266.68 L286.79,266.74 L287.13,266.80 L287.47,266.85 L287.81,266.91 L288.14,266.97 L288.48,267.02 L288.82,267.08 L289.16,267.14 L289.50,267.19 L289.84,267.25 L290.17,267.30 L290.51,267.36 L290.85,267.41 L291.19,267.47 L291.53,267.52 L291.87,267.58 L292.20,267.63 L292.54,267.69 L292.88,267.74 L293.22,267.80 L293.56,267.85 L293.90,267.90 L294.24,267.96 L294.57,268.01 L294.91,268.07 L295.25,268.12 L295.59,268.17 L295.93,268.22 L296.27,268.28 L296.61,268.33 L296.95,268.38 L297.29,268.44 L297.62,268.49 L297.96,268.54 L298.30,268.59 L298.64,268.64 L298.98,268.69 L299.32,268.75 L299.66,268.80 L300.00,268.85 L300.34,268.90 L300.68,268.95 L301.02,269.00 L301.35,269.05 L301.69,269.10 L302.03,269.15 L302.37,269.20 L302.71,269.25 L303.05,269.30 L303.39,269.35 L303.73,269.40 L304.07,269.45 L304.41,269.50 L304.75,269.55 L305.09,269.60 L305.43,269.65 L305.77,269.70 L306.11,269.75 L306.45,269.80 L306.79,269.84 L307.13,269.89 L307.47,269.94 L307.80,269.99 L308.14,270.04 L308.48,270.08 L308.82,270.13 L309.16,270.18 L309.50,270.23 L309.84,270.27 L310.18,270.32 L310.52,270.37 L310.86,270.41 L311.20,270.46 L311.54,270.51 L311.88,270.55 L312.22,270.60 L312.56,270.65 L312.90,270.69 L313.24,270.74 L313.58,270.78 L313.92,270.83 L314.27,270.88 L314.61,270.92 L314.95,270.97 L315.29,271.01 L315.63,271.06 L315.97,271.10 L316.31,271.15 L316.65,271.19 L316.99,271.24 L317.33,271.28 L317.67,271.32 L318.01,271.37 L318.35,271.41 L318.69,271.46 L319.03,271.50 L319.37,271.55 L319.71,271.59 L320.05,271.63 L320.39,271.68 L320.74,271.72 L321.08,271.76 L321.42,271.81 L321.76,271.85 L322.10,271.89 L322.44,271.93 L322.78,271.98 L323.12,272.02 L323.46,272.06 L323.80,272.10 L324.14,272.15 L324.49,272.19 L324.83,272.23 L325.17,272.27 L325.51,272.31 L325.85,272.36 L326.19,272.40 L326.53,272.44 L326.87,272.48 L327.22,272.52 L327.56,272.56 L327.90,272.60 L328.24,272.64 L328.58,272.69 L328.92,272.73 L329.26,272.77 L329.60,272.81 L329.95,272.85 L330.29,272.89 L330.63,272.93 L330.97,272.97 L331.31,273.01" stroke="#0000ff"/>
<path d="M30.80,305.70 L31.05,305.55 L31.30,305.40 L31.55,305.24 L31.79,305.09 L32.04,304.93 L32.28,304.77 L32.51,304.60 L32.75,304.44 L32.98,304.27 L33.21,304.11 L33.44,303.94 L33.66,303.76 L33.89,303.59 L34.11,303.42 L34.33,303.24 L34.54,303.06 L34.76,302.88 L34.97,302.70 L35.18,302.52 L35.38,302.33 L35.59,302.14 L35.79,301.96 L35.99,301.76 L36.19,301.57 L36.39,301.38 L36.58,301.19 L36.78,300.99 L36.97,300.79 L37.16,300.59 L37.34,300.39 L37.53,300.19 L37.71,299.98 L37.89,299.78 L38.07,299.57 L38.25,299.36 L38.42,299.15 L38.60,298.94 L38.77,298.73 L38.94,298.52 L39.11,298.30 L39.27,298.09 L39.44,297.87 L39.60,297.65 L39.76,297.43 L39.92,297.21 L40.08,296.99 L40.24,296.76 L40.39,296.54 L40.54,296.31 L40.70,296.08 L40.85,295.85 L40.99,295.63 L41.14,295.39 L41.29,295.16 L41.43,294.93 L41.57,294.70 L41.72,294.46 L41.86,294.22 L41.99,293.99 L42.13,293.75 L42.27,293.51 L42.40,293.27 L42.53,293.03 L42.67,292.79 L42.80,292.54 L42.93,292.30 L43.05,292.05 L43.18,291.81 L43.31,291.56 L43.43,291.31 L43.55,291.06 L43.68,290.82 L43.80,290.57 L43.92,290.31 L44.04,290.06 L44.15,289.81 L44.27,289.56 L44.39,289.30 L44.50,289.05 L44.62,288.79 L44.73,288.54 L44.84,288.28 L44.95,288.03 L45.06,287.77 L45.17,287.51 L45.28,287.25 L45.39,286.99 L45.50,286.73 L45.60,286.47 L45.71,286.21 L45.81,285.95 L45.92,285.69 L46.02,285.42 L46.12,285.16 L46.23,284.90 L46.33,284.63 L46.43,284.37 L46.53,284.10 L46.63,283.84 L46.73,283.57 L46.83,283.31 L46.92,283.04 L47.02,282.77 L47.12,282.51 L47.22,282.24 L47.31,281.97 L47.41,281.71 L47.50,281.44 L47.60,281.17 L47.69,280.90 L47.79,280.63 L47.88,280.36 L47.98,280.10 L48.07,279.83 L48.16,279.56 L48.26,279.29 L48.35,279.02 L48.44,278.75 L48.53,278.48 L48.63,278.21 L48.72,277.94 L48.81,277.67 L48.90,277.40 L48.99,277.13 L49.08,276.86 L49.18,276.59 L49.27,276.32 L49.36,276.05 L49.45,275.78 L49.54,275.51 L49.63,275.24 L49.72,274.97 L49.81,274.70 L49.90,274.43 L49.99,274.16 L50.08,273.89 L50.16,273.62 L50.25,273.35 L50.34,273.08 L50.43,272.81 L50.52,272.54 L50.61,272.26 L50.70,271.99 L50.78,271.72 L50.87,271.45 L50.96,271.18 L51.05,270.91 L51.13,270.64 L51.22,270.37 L51.31,270.09 L51.39,269.82 L51.48,269.55 L51.56,269.28 L51.65,269.01 L51.74,268.74 L51.82,268.46 L51.91,268.19 L51.99,267.92 L52.08,267.65 L52.16,267.38 L52.25,267.11 L52.33,266.83 L52.42,266.56 L52.50,266.29 L52.59,266.02 L52.67,265.75 L52.75,265.47 L52.84,265.20 L52.92,264.93 L53.00,264.66 L53.09,264.38 L53.17,264.11 L53.25,263.84 L53.34,263.57 L53.42,263.29 L53.50,263.02 L53.58,262.75 L53.67,262.48 L53.75,262.20 L53.83,261.93 L53.91,261.66 L53.99,261.39 L54.08,261.11 L54.16,260.84 L54.24,260.57 L54.32,260.30 L54.40,260.02 L54.48,259.75 L54.56,259.48 L54.64,259.21 L54.72,258.93 L54.80,258.66 L54.88,258.39 L54.96,258.12 L55.04,257.84 L55.12,257.57 L55.20,257.30 L55.28,257.03 L55.36,256.75 L55.44,256.48 L55.52,256.21 L55.60,255.93 L55.68,255.66 L55.76,255.39 L55.84,255.12 L55.91,254.84 L55.99,254.57 L56.07,254.30 L56.15,254.03 L56.23,253.75 L56.31,253.48 L56.38,253.21 L56.46,252.94 L56.54,252.66 L56.62,252.39 L56.69,252.12 L56.77,251.85 L56.85,251.57 L56.93,251.30 L57.00,251.03 L57.08,250.76 L57.16,250.48 L57.23,250.21 L57.31,249.94 L57.39,249.67 L57.46,249.39 L57.54,249.12 L57.61,248.85 L57.69,248.58 L57.77,248.31 L57.84,248.03 L57.92,247.76 L57.99,247.49 L58.07,247.22 L58.14,246.95 L58.22,246.67 L58.29,246.40 L58.37,246.13 L58.44,245.86 L58.52,245.59 L58.59,245.31 L58.67,245.04 L58.74,244.77 L58.82,244.50 L58.89,244.23 L58.97,243.96 L59.04,243.69 L59.12,243.41 L59.19,243.14 L59.27,242.87 L59.34,242.60 L59.41,242.33 L59.49,242.06 L59.56,241.79 L59.63,241.52 L59.71,241.25 L59.78,240.97 L59.86,240.70 L59.93,240.43 L60.00,240.16 L60.08,239.89 L60.15,239.62 L60.22,239.35 L60.30,239.08 L60.37,238.81 L60.44,238.54 L60.51,238.27 L60.59,238.00 L60.66,237.73 L60.73,237.46 L60.81,237.19 L60.88,236.92 L60.95,236.65 L61.02,236.38 L61.10,236.11 L61.17,235.84 L61.24,235.57 L61.31,235.30 L61.38,235.03 L61.46,234.76 L61.53,234.49 L61.60,234.23 L61.67,233.96 L61.75,233.69 L61.82,233.42 L61.89,233.15 L61.96,232.88 L62.03,232.61 L62.10,232.35 L62.18,232.08 L62.25,231.81 L62.32,231.54 L62.39,231.27 L62.46,231.00 L62.53,230.74 L62.61,230.47 L62.68,230.20 L62.75,229.93 L62.82,229.67 L62.89,229.40 L62.96,229.13 L63.03,228.87 L63.10,228.60 L63.18,228.33 L63.25,228.07 L63.32,227.80 L63.39,227.53 L63.46,227.27 L63.53,227.00 L63.60,226.73 L63.67,226.47 L63.74,226.20 L63.82,225.94 L63.89,225.67 L63.96,225.40 L64.03,225.14 L64.10,224.87 L64.17,224.61 L64.24,224.34 L64.31,224.08 L64.38,223.81 L64.45,223.55 L64.53,223.28 L64.60,223.02 L64.67,222.75 L64.74,222.49 L64.81,222.22 L64.88,221.96 L64.95,221.70 L65.03,221.43 L65.10,221.17 L65.17,220.90 L65.24,220.64 L65.31,220.37 L65.38,220.11 L65.46,219.85 L65.53,219.58 L65.60,219.32 L65.67,219.05 L65.75,218.79 L65.82,218.53 L65.89,218.26 L65.96,218.00 L66.04,217.74 L66.11,217.47 L66.18,217.21 L66.26,216.95 L66.33,216.68 L66.41,216.42 L66.48,216.15 L66.55,215.89 L66.63,215.63 L66.70,215.36 L66.78,215.10 L66.85,214.84 L66.93,214.57 L67.00,214.31 L67.08,214.05 L67.16,213.78 L67.23,213.52 L67.31,213.26 L67.38,212.99 L67.46,212.73 L67.54,212.46 L67.62,212.20 L67.69,211.94 L67.77,211.67 L67.85,211.41 L67.93,211.15 L68.01,210.88 L68.08,210.62 L68.16,210.35 L68.24,210.09 L68.32,209.83 L68.40,209.56 L68.48,209.30 L68.56,209.03 L68.64,208.77 L68.73,208.51 L68.81,208.24 L68.89,207.98 L68.97,207.71 L69.05,207.45 L69.14,207.18 L69.22,206.92 L69.30,206.65 L69.39,206.39 L69.47,206.12 L69.56,205.86 L69.64,205.59 L69.73,205.33 L69.81,205.06 L69.90,204.80 L69.99,204.53 L70.07,204.27 L70.16,204.00 L70.25,203.74 L70.34,203.47 L70.42,203.20 L70.51,202.94 L70.60,202.67 L70.69,202.41 L70.78,202.14 L70.87,201.87 L70.96,201.61 L71.06,201.34 L71.15,201.07 L71.24,200.80 L71.33,200.54 L71.43,200.27 L71.52,200.00 L71.62,199.73 L71.71,199.47 L71.81,199.20 L71.90,198.93 L72.00,198.66 L72.10,198.39 L72.19,198.13 L72.29,197.86 L72.39,197.59 L72.49,197.32 L72.59,197.05 L72.69,196.78 L72.79,196.51 L72.89,196.24 L72.99,195.97 L73.09,195.70 L73.20,195.43 L73.30,195.16 L73.40,194.89 L73.51,194.62 L73.61,194.35 L73.72,194.08 L73.82,193.80 L73.93,193.53 L74.04,193.26 L74.15,192.99 L74.26,192.72 L74.36,192.44 L74.47,192.17 L74.58,191.90 L74.70,191.62 L74.81,191.35 L74.92,191.08 L75.03,190.80 L75.15,190.53 L75.26,190.25 L75.38,189.98 L75.49,189.70 L75.61,189.43 L75.72,189.15 L75.84,188.88 L75.96,188.60 L76.08,188.33 L76.20,188.05 L76.32,187.77 L76.44,187.50 L76.56,187.22 L76.69,186.94 L76.81,186.66 L76.93,186.39 L77.06,186.11 L77.18,185.83 L77.31,185.55 L77.44,185.27 L77.56,185.00 L77.69,184.72 L77.82,184.44 L77.95,184.16 L78.09,183.89 L78.22,183.61 L78.35,183.33 L78.49,183.06 L78.62,182.78 L78.76,182.51 L78.90,182.24 L79.04,181.96 L79.18,181.69 L79.32,181.42 L79.46,181.15 L79.61,180.88 L79.75,180.62 L79.90,180.35 L80.05,180.08 L80.20,179.82 L80.35,179.56 L80.50,179.30 L80.66,179.04 L80.81,178.78 L80.97,178.53 L81.13,178.27 L81.29,178.02 L81.45,177.77 L81.61,177.52 L81.78,177.28 L81.95,177.03 L82.12,176.79 L82.29,176.55 L82.46,176.31 L82.63,176.08 L82.81,175.85 L82.98,175.62 L83.16,175.39 L83.34,175.16 L83.53,174.94 L83.71,174.72 L83.90,174.51 L84.09,174.29 L84.28,174.08 L84.47,173.87 L84.67,173.67 L84.87,173.47 L85.07,173.27 L85.27,173.08 L85.47,172.88 L85.68,172.70 L85.89,172.51 L86.10,172.33 L86.31,172.15 L86.52,171.98 L86.74,171.81 L86.96,171.64 L87.18,171.48 L87.40,171.32 L87.63,171.17 L87.85,171.02 L88.08,170.87 L88.31,170.73 L88.54,170.59 L88.78,170.45 L89.01,170.32 L89.25,170.20 L89.48,170.07 L89.72,169.96 L89.96,169.84 L90.21,169.73 L90.45,169.63 L90.70,169.53 L90.94,169.44 L91.19,169.35 L91.44,169.26 L91.69,169.18 L91.94,169.10 L92.19,169.03 L92.45,168.97 L92.70,168.91 L92.96,168.85 L93.21,168.80 L93.47,168.75 L93.73,168.71 L93.99,168.68 L94.25,168.65 L94.51,168.62 L94.77,168.60 L95.03,168.59 L95.30,168.58 L95.56,168.58 L95.82,168.58 L96.09,168.59 L96.35,168.60 L96.62,168.62 L96.88,168.64 L97.15,168.67 L97.42,168.71 L97.68,168.75 L97.95,168.79 L98.22,168.84 L98.48,168.89 L98.75,168.95 L99.02,169.01 L99.29,169.07 L99.55,169.14 L99.82,169.22 L100.09,169.29 L100.35,169.38 L100.62,169.46 L100.89,169.55 L101.15,169.64 L101.42,169.74 L101.68,169.84 L101.95,169.94 L102.21,170.05 L102.48,170.16 L102.74,170.27 L103.00,170.39 L103.27,170.51 L103.53,170.63 L103.79,170.75 L104.05,170.88 L104.31,171.01 L104.56,171.14 L104.82,171.28 L105.08,171.42 L105.33,171.55 L105.59,171.70 L105.84,171.84 L106.09,171.98 L106.34,172.13 L106.59,172.28 L106.84,172.43 L107.08,172.58 L107.33,172.74 L107.57,172.89 L107.82,173.05 L108.06,173.20 L108.30,173.36 L108.54,173.52 L108.77,173.69 L109.01,173.85 L109.25,174.02 L109.48,174.18 L109.71,174.35 L109.94,174.52 L110.18,174.69 L110.40,174.86 L110.63,175.03 L110.86,175.21 L111.09,175.38 L111.31,175.56 L111.54,175.73 L111.76,175.91 L111.98,176.09 L112.20,176.27 L112.42,176.45 L112.64,176.64 L112.86,176.82 L113.07,177.01 L113.29,177.19 L113.51,177.38 L113.72,177.57 L113.93,177.76 L114.15,177.95 L114.36,178.14 L114.57,178.33 L114.78,178.52 L114.99,178.71 L115.20,178.91 L115.40,179.10 L115.61,179.30 L115.82,179.50 L116.02,179.69 L116.23,179.89 L116.43,180.09 L116.64,180.29 L116.84,180.49 L117.04,180.69 L117.24,180.89 L117.45,181.09 L117.65,181.30 L117.85,181.50 L118.05,181.70 L118.24,181.91 L118.44,182.11 L118.64,182.32 L118.84,182.53 L119.04,182.73 L119.23,182.94 L119.43,183.15 L119.62,183.36 L119.82,183.56 L120.01,183.77 L120.21,183.98 L120.40,184.19 L120.60,184.40 L120.79,184.61 L120.98,184.82 L121.18,185.03 L121.37,185.24 L121.56,185.45 L121.75,185.67 L121.95,185.88 L122.14,186.09 L122.33,186.30 L122.52,186.51 L122.71,186.72 L122.90,186.94 L123.10,187.15 L123.29,187.36 L123.48,187.57 L123.67,187.79 L123.86,188.00 L124.05,188.21 L124.24,188.42 L124.43,188.64 L124.62,188.85 L124.81,189.06 L125.00,189.27 L125.19,189.48 L125.39,189.70 L125.58,189.91 L125.77,190.12 L125.96,190.33 L126.15,190.54 L126.34,190.75 L126.53,190.96 L126.73,191.17 L126.92,191.38 L127.11,191.59 L127.30,191.80 L127.50,192.01 L127.69,192.22 L127.88,192.43 L128.07,192.64 L128.27,192.85 L128.46,193.05 L128.66,193.26 L128.85,193.47 L129.04,193.68 L129.24,193.88 L129.43,194.09 L129.63,194.29 L129.82,194.50 L130.02,194.71 L130.21,194.91 L130.41,195.12 L130.61,195.32 L130.80,195.53 L131.00,195.73 L131.19,195.93 L131.39,196.14 L131.59,196.34 L131.78,196.54 L131.98,196.75 L132.18,196.95 L132.38,197.15 L132.57,197.35 L132.77,197.55 L132.97,197.76 L133.17,197.96 L133.37,198.16 L133.57,198.36 L133.77,198.56 L133.97,198.76 L134.16,198.96 L134.36,199.16 L134.56,199.36 L134.76,199.55 L134.96,199.75 L135.17,199.95 L135.37,200.15 L135.57,200.35 L135.77,200.54 L135.97,200.74 L136.17,200.94 L136.37,201.13 L136.57,201.33 L136.78,201.53 L136.98,201.72 L137.18,201.92 L137.38,202.11 L137.59,202.31 L137.79,202.50 L137.99,202.70 L138.20,202.89 L138.40,203.08 L138.60,203.28 L138.81,203.47 L139.01,203.66 L139.22,203.85 L139.42,204.05 L139.63,204.24 L139.83,204.43 L140.04,204.62 L140.24,204.81 L140.45,205.00 L140.66,205.19 L140.86,205.38 L141.07,205.57 L141.28,205.76 L141.48,205.95 L141.69,206.14 L141.90,206.33 L142.11,206.52 L142.31,206.71 L142.52,206.89 L142.73,207.08 L142.94,207.27 L143.15,207.46 L143.36,207.64 L143.56,207.83 L143.77,208.01 L143.98,208.20 L144.19,208.39 L144.40,208.57 L144.61,208.76 L144.82,208.94 L145.04,209.12 L145.25,209.31 L145.46,209.49 L145.67,209.67 L145.88,209.86 L146.09,210.04 L146.30,210.22 L146.52,210.40 L146.73,210.59 L146.94,210.77 L147.15,210.95 L147.37,211.13 L147.58,211.31 L147.79,211.49 L148.01,211.67 L148.22,211.85 L148.44,212.03 L148.65,212.21 L148.87,212.39 L149.08,212.57 L149.30,212.74 L149.51,212.92 L149.73,213.10 L149.94,213.28 L150.16,213.45 L150.38,213.63 L150.59,213.81 L150.81,213.98 L151.03,214.16 L151.24,214.33 L151.46,214.51 L151.68,214.68 L151.90,214.86 L152.11,215.03 L152.33,215.21 L152.55,215.38 L152.77,215.55 L152.99,215.73 L153.21,215.90 L153.43,216.07 L153.65,216.24 L153.87,216.42 L154.09,216.59 L154.31,216.76 L154.53,216.93 L154.75,217.10 L154.97,217.27 L155.19,217.44 L155.42,217.61 L155.64,217.78 L155.86,217.95 L156.08,218.12 L156.31,218.28 L156.53,218.45 L156.75,218.62 L156.98,218.79 L157.20,218.95 L157.42,219.12 L157.65,219.29 L157.87,219.45 L158.10,219.62 L158.32,219.79 L158.55,219.95 L158.77,220.12 L159.00,220.28 L159.22,220.44 L159.45,220.61 L159.68,220.77 L159.90,220.94 L160.13,221.10 L160.36,221.26 L160.58,221.42 L160.81,221.59 L161.04,221.75 L161.27,221.91 L161.49,222.07 L161.72,222.23 L161.95,222.39 L162.18,222.55 L162.41,222.71 L162.64,222.87 L162.87,223.03 L163.10,223.19 L163.33,223.35 L163.56,223.51 L163.79,223.66 L164.02,223.82 L164.25,223.98 L164.49,224.14 L164.72,224.29 L164.95,224.45 L165.18,224.60 L165.41,224.76 L165.65,224.92 L165.88,225.07 L166.11,225.23 L166.35,225.38 L166.58,225.53 L166.81,225.69 L167.05,225.84 L167.28,225.99 L167.52,226.15 L167.75,226.30 L167.99,226.45 L168.22,226.60 L168.46,226.75 L168.70,226.91 L168.93,227.06 L169.17,227.21 L169.40,227.36 L169.64,227.51 L169.88,227.66 L170.12,227.81 L170.35,227.96 L170.59,228.10 L170.83,228.25 L171.07,228.40 L171.31,228.55 L171.55,228.70 L171.78,228.84 L172.02,228.99 L172.26,229.14 L172.50,229.28 L172.74,229.43 L172.98,229.57 L173.22,229.72 L173.46,229.86 L173.70,230.01 L173.94,230.15 L174.19,230.30 L174.43,230.44 L174.67,230.58 L174.91,230.73 L175.15,230.87 L175.39,231.01 L175.64,231.15 L175.88,231.29 L176.12,231.44 L176.37,231.58 L176.61,231.72 L176.85,231.86 L177.10,232.00 L177.34,232.14 L177.58,232.28 L177.83,232.42 L178.07,232.56 L178.32,232.69 L178.56,232.83 L178.81,232.97 L179.05,233.11 L179.30,233.24 L179.54,233.38 L179.79,233.52 L180.04,233.65 L180.28,233.79 L180.53,233.93 L180.77,234.06 L181.02,234.20 L181.27,234.33 L181.52,234.46 L181.76,234.60 L182.01,234.73 L182.26,234.87 L182.51,235.00 L182.75,235.13 L183.00,235.26 L183.25,235.40 L183.50,235.53 L183.75,235.66 L184.00,235.79 L184.25,235.92 L184.50,236.05 L184.75,236.18 L185.00,236.31 L185.25,236.44 L185.50,236.57 L185.75,236.70 L186.00,236.83 L186.25,236.96 L186.50,237.09 L186.75,237.21 L187.00,237.34 L187.25,237.47 L187.50,237.59 L187.75,237.72 L188.01,237.85 L188.26,237.97 L188.51,238.10 L188.76,238.22 L189.02,238.35 L189.27,238.47 L189.52,238.60 L189.77,238.72 L190.03,238.84 L190.28,238.97 L190.53,239.09 L190.79,239.21 L191.04,239.34 L191.29,239.46 L191.55,239.58 L191.80,239.70 L192.06,239.82 L192.31,239.94 L192.57,240.06 L192.82,240.18 L193.08,240.30 L193.33,240.42 L193.59,240.54 L193.84,240.66 L194.10,240.78 L194.35,240.90 L194.61,241.01 L194.86,241.13 L195.12,241.25 L195.38,241.37 L195.63,241.48 L195.89,241.60 L196.15,241.72 L196.40,241.83 L196.66,241.95 L196.92,242.06 L197.17,242.18 L197.43,242.29 L197.69,242.40 L197.95,242.52 L198.20,242.63 L198.46,242.74 L198.72,242.86 L198.98,242.97 L199.24,243.08 L199.50,243.19 L199.75,243.31 L200.01,243.42 L200.27,243.53 L200.53,243.64 L200.79,243.75 L201.05,243.86 L201.31,243.97 L201.57,244.08 L201.83,244.19 L202.09,244.30 L202.35,244.40 L202.61,244.51 L202.87,244.62 L203.13,244.73 L203.39,244.84 L203.65,244.94 L203.91,245.05 L204.17,245.15 L204.43,245.26 L204.69,245.37 L204.95,245.47 L205.21,245.58 L205.47,245.68 L205.73,245.79 L205.99,245.89 L206.26,245.99 L206.52,246.10 L206.78,246.20 L207.04,246.30 L207.30,246.41 L207.56,246.51 L207.83,246.61 L208.09,246.71 L208.35,246.81 L208.61,246.91 L208.87,247.02 L209.14,247.12 L209.40,247.22 L209.66,247.32 L209.93,247.42 L210.19,247.51 L210.45,247.61 L210.72,247.71 L210.98,247.81 L211.24,247.91 L211.51,248.01 L211.77,248.10 L212.03,248.20 L212.30,248.30 L212.56,248.40 L212.82,248.49 L213.09,248.59 L213.35,248.68 L213.62,248.78 L213.88,248.88 L214.15,248.97 L214.41,249.07 L214.68,249.16 L214.94,249.25 L215.21,249.35 L215.47,249.44 L215.74,249.53 L216.00,249.63 L216.27,249.72 L216.53,249.81 L216.80,249.91 L217.06,250.00 L217.33,250.09 L217.59,250.18 L217.86,250.27 L218.13,250.36 L218.39,250.45 L218.66,250.54 L218.92,250.63 L219.19,250.72 L219.46,250.81 L219.72,250.90 L219.99,250.99 L220.26,251.08 L220.52,251.17 L220.79,251.26 L221.06,251.35 L221.32,251.43 L221.59,251.52 L221.86,251.61 L222.13,251.69 L222.39,251.78 L222.66,251.87 L222.93,251.95 L223.20,252.04 L223.46,252.13 L223.73,252.21 L224.00,252.30 L224.27,252.38 L224.53,252.47 L224.80,252.55 L225.07,252.63 L225.34,252.72 L225.61,252.80 L225.88,252.89 L226.14,252.97 L226.41,253.05 L226.68,253.13 L226.95,253.22 L227.22,253.30 L227.49,253.38 L227.76,253.46 L228.03,253.54 L228.30,253.63 L228.56,253.71 L228.83,253.79 L229.10,253.87 L229.37,253.95 L229.64,254.03 L229.91,254.11 L230.18,254.19 L230.45,254.27 L230.72,254.35 L230.99,254.43 L231.26,254.50 L231.53,254.58 L231.80,254.66 L232.07,254.74 L232.34,254.82 L232.61,254.89 L232.88,254.97 L233.15,255.05 L233.42,255.13 L233.69,255.20 L233.96,255.28 L234.23,255.35 L234.51,255.43 L234.78,255.51 L235.05,255.58 L235.32,255.66 L235.59,255.73 L235.86,255.81 L236.13,255.88 L236.40,255.96 L236.67,256.03 L236.95,256.10 L237.22,256.18 L237.49,256.25 L237.76,256.33 L238.03,256.40 L238.30,256.47 L238.58,256.54 L238.85,256.62 L239.12,256.69 L239.39,256.76 L239.66,256.83 L239.94,256.90 L240.21,256.98 L240.48,257.05 L240.75,257.12 L241.02,257.19 L241.30,257.26 L241.57,257.33 L241.84,257.40 L242.11,257.47 L242.39,257.54 L242.66,257.61 L242.93,257.68 L243.20,257.75 L243.48,257.82 L243.75,257.89 L244.02,257.96 L244.30,258.02 L244.57,258.09 L244.84,258.16 L245.12,258.23 L245.39,258.30 L245.66,258.36 L245.94,258.43 L246.21,258.50 L246.48,258.57 L246.76,258.63 L247.03,258.70 L247.30,258.77 L247.58,258.83 L247.85,258.90 L248.12,258.96 L248.40,259.03 L248.67,259.09 L248.94,259.16 L249.22,259.23 L249.49,259.29 L249.77,259.36 L250.04,259.42 L250.31,259.48 L250.59,259.55 L250.86,259.61 L251.14,259.68 L251.41,259.74 L251.69,259.80 L251.96,259.87 L252.23,259.93 L252.51,259.99 L252.78,260.06 L253.06,260.12 L253.33,260.18 L253.61,260.24 L253.88,260.31 L254.16,260.37 L254.43,260.43 L254.70,260.49 L254.98,260.55 L255.25,260.62 L255.53,260.68 L255.80,260.74 L256.08,260.80 L256.35,260.86 L256.63,260.92 L256.90,260.98 L257.18,261.04 L257.45,261.10 L257.73,261.16 L258.00,261.22 L258.28,261.28 L258.55,261.34 L258.83,261.40 L259.10,261.46 L259.38,261.52 L259.66,261.58 L259.93,261.64 L260.21,261.69 L260.48,261.75 L260.76,261.81 L261.03,261.87 L261.31,261.93 L261.58,261.98 L261.86,262.04 L262.13,262.10 L262.41,262.16 L262.69,262.21 L262.96,262.27 L263.24,262.33 L263.51,262.39 L263.79,262.44 L264.06,262.50 L264.34,262.56 L264.62,262.61 L264.89,262.67 L265.17,262.72 L265.44,262.78 L265.72,262.84 L266.00,262.89 L266.27,262.95 L266.55,263.00 L266.82,263.06 L267.10,263.11 L267.38,263.17 L267.65,263.22 L267.93,263.28 L268.20,263.33 L268.48,263.39 L268.76,263.44 L269.03,263.50 L269.31,263.55 L269.58,263.60 L269.86,263.66 L270.14,263.71 L270.41,263.77 L270.69,263.82 L270.97,263.87 L271.24,263.93 L271.52,263.98 L271.79,264.03 L272.07,264.09 L272.35,264.14 L272.62,264.19 L272.90,264.24 L273.18,264.30 L273.45,264.35 L273.73,264.40 L274.01,264.45 L274.28,264.50 L274.56,264.56 L274.84,264.61 L275.11,264.66 L275.39,264.71 L275.66,264.76 L275.94,264.81 L276.22,264.87 L276.49,264.92 L276.77,264.97 L277.05,265.02 L277.32,265.07 L277.60,265.12 L277.88,265.17 L278.15,265.22 L278.43,265.27 L278.71,265.32 L278.98,265.37 L279.26,265.42 L279.54,265.47 L279.82,265.52 L280.09,265.57 L280.37,265.62 L280.65,265.67 L280.92,265.72 L281.20,265.77 L281.48,265.82 L281.75,265.87 L282.03,265.91 L282.31,265.96 L282.58,266.01 L282.86,266.06 L283.14,266.11 L283.41,266.16 L283.69,266.20 L283.97,266.25 L284.25,266.30 L284.52,266.35 L284.80,266.40 L285.08,266.44 L285.35,266.49 L285.63,266.54 L285.91,266.59 L286.19,266.63 L286.46,266.68 L286.74,266.73 L287.02,266.77 L287.29,266.82 L287.57,266.87 L287.85,266.91 L288.13,266.96 L288.40,267.01 L288.68,267.05 L288.96,267.10 L289.24,267.14 L289.51,267.19 L289.79,267.24 L290.07,267.28 L290.35,267.33 L290.62,267.37 L290.90,267.42 L291.18,267.46 L291.46,267.51 L291.73,267.55 L292.01,267.60 L292.29,267.64 L292.57,267.69 L292.84,267.73 L293.12,267.78 L293.40,267.82 L293.68,267.87 L293.95,267.91 L294.23,267.95 L294.51,268.00 L294.79,268.04 L295.06,268.09 L295.34,268.13 L295.62,268.17 L295.90,268.22 L296.18,268.26 L296.45,268.30 L296.73,268.35 L297.01,268.39 L297.29,268.43 L297.56,268.48 L297.84,268.52 L298.12,268.56 L298.40,268.60 L298.68,268.65 L298.95,268.69 L299.23,268.73 L299.51,268.77 L299.79,268.82 L300.07,268.86 L300.34,268.90 L300.62,268.94 L300.90,268.98 L301.18,269.03 L301.46,269.07 L301.73,269.11 L302.01,269.15 L302.29,269.19 L302.57,269.23 L302.85,269.27 L303.13,269.31 L303.40,269.36 L303.68,269.40 L303.96,269.44 L304.24,269.48 L304.52,269.52 L304.79,269.56 L305.07,269.60 L305.35,269.64 L305.63,269.68 L305.91,269.72 L306.19,269.76 L306.46,269.80 L306.74,269.84 L307.02,269.88 L307.30,269.92 L307.58,269.96 L307.86,270.00 L308.14,270.04 L308.41,270.08 L308.69,270.11 L308.97,270.15 L309.25,270.19 L309.53,270.23 L309.81,270.27 L310.09,270.31 L310.36,270.35 L310.64,270.39 L310.92,270.42 L311.20,270.46 L311.48,270.50 L311.76,270.54 L312.04,270.58 L312.31,270.62 L312.59,270.65 L312.87,270.69 L313.15,270.73 L313.43,270.77 L313.71,270.80 L313.99,270.84 L314.27,270.88 L314.55,270.92 L314.82,270.95 L315.10,270.99 L315.38,271.03 L315.66,271.06 L315.94,271.10 L316.22,271.14 L316.50,271.17 L316.78,271.21 L317.06,271.25 L317.34,271.28 L317.61,271.32 L317.89,271.36 L318.17,271.39 L318.45,271.43 L318.73,271.47 L319.01,271.50 L319.29,271.54 L319.57,271.57 L319.85,271.61 L320.13,271.64 L320.41,271.68 L320.69,271.72 L320.96,271.75 L321.24,271.79 L321.52,271.82 L321.80,271.86 L322.08,271.89 L322.36,271.93 L322.64,271.96 L322.92,272.00 L323.20,272.03 L323.48,272.07 L323.76,272.10 L324.04,272.13 L324.32,272.17 L324.60,272.20 L324.88,272.24 L325.16,272.27 L325.43,272.31 L325.71,272.34 L325.99,272.37 L326.27,272.41 L326.55,272.44 L326.83,272.48 L327.11,272.51 L327.39,272.54 L327.67,272.58 L327.95,272.61 L328.23,272.64 L328.51,272.68 L328.79,272.71 L329.07,272.74 L329.35,272.78 L329.63,272.81 L329.91,272.84 L330.19,272.87 L330.47,272.91 L330.75,272.94 L331.03,272.97 L331.31,273.01" stroke="#8b008b"/>
</g>
<path d="M30.80,305.70 v-4.8 M30.80,5.00 v4.0 M42.82,305.70 v-2.8 M42.82,5.00 v2.6 M54.84,305.70 v-2.8 M54.84,5.00 v2.6 M66.86,305.70 v-2.8 M66.86,5.00 v2.6 M78.88,305.70 v-2.8 M78.88,5.00 v2.6 M90.90,305.70 v-4.8 M90.90,5.00 v4.0 M102.92,305.70 v-2.8 M102.92,5.00 v2.6 M114.94,305.70 v-2.8 M114.94,5.00 v2.6 M126.96,305.70 v-2.8 M126.96,5.00 v2.6 M138.98,305.70 v-2.8 M138.98,5.00 v2.6 M151.00,305.70 v-4.8 M151.00,5.00 v4.0 M163.02,305.70 v-2.8 M163.02,5.00 v2.6 M175.04,305.70 v-2.8 M175.04,5.00 v2.6 M187.06,305.70 v-2.8 M187.06,5.00 v2.6 M199.08,305.70 v-2.8 M199.08,5.00 v2.6 M211.10,305.70 v-4.8 M211.10,5.00 v4.0 M223.12,305.70 v-2.8 M223.12,5.00 v2.6 M235.14,305.70 v-2.8 M235.14,5.00 v2.6 M247.16,305.70 v-2.8 M247.16,5.00 v2.6 M259.18,305.70 v-2.8 M259.18,5.00 v2.6 M271.20,305.70 v-4.8 M271.20,5.00 v4.0 M283.22,305.70 v-2.8 M283.22,5.00 v2.6 M295.24,305.70 v-2.8 M295.24,5.00 v2.6 M307.26,305.70 v-2.8 M307.26,5.00 v2.6 M319.28,305.70 v-2.8 M319.28,5.00 v2.6 M331.30,305.70 v-4.8 M331.30,5.00 v4.0 M30.80,305.70 h4.2 M331.30,305.70 h-4.2 M30.80,286.91 h2.6 M331.30,286.91 h-2.6 M30.80,268.11 h2.6 M331.30,268.11 h-2.6 M30.80,249.32 h2.6 M331.30,249.32 h-2.6 M30.80,230.52 h4.2 M331.30,230.52 h-4.2 M30.80,211.73 h2.6 M331.30,211.73 h-2.6 M30.80,192.94 h2.6 M331.30,192.94 h-2.6 M30.80,174.14 h2.6 M331.30,174.14 h-2.6 M30.80,155.35 h4.2 M331.30,155.35 h-4.2 M30.80,136.56 h2.6 M331.30,136.56 h-2.6 M30.80,117.76 h2.6 M331.30,117.76 h-2.6 M30.80,98.97 h2.6 M331.30,98.97 h-2.6 M30.80,80.17 h4.2 M331.30,80.17 h-4.2 M30.80,61.38 h2.6 M331.30,61.38 h-2.6 M30.80,42.59 h2.6 M331.30,42.59 h-2.6 M30.80,23.79 h2.6 M331.30,23.79 h-2.6 M30.80,5.00 h4.2 M331.30,5.00 h-4.2" stroke="#000" stroke-width="1.9" fill="none"/>
<rect x="30.80" y="5.00" width="300.50" height="300.90" fill="none" stroke="#000" stroke-width="2.2"/>
<text x="30.3" y="316.0" font-size="8.3" text-anchor="middle">0</text>
<text x="91.0" y="316.0" font-size="8.3" text-anchor="middle">5</text>
<text x="151.1" y="316.0" font-size="8.3" text-anchor="middle">10</text>
<text x="211.2" y="316.0" font-size="8.3" text-anchor="middle">15</text>
<text x="271.3" y="316.0" font-size="8.3" text-anchor="middle">20</text>
<text x="331.4" y="316.0" font-size="8.3" text-anchor="middle">25</text>
<text x="27.5" y="308.3" font-size="8.3" text-anchor="end">1.0</text>
<text x="27.5" y="233.1" font-size="8.3" text-anchor="end">1.2</text>
<text x="27.5" y="157.9" font-size="8.3" text-anchor="end">1.4</text>
<text x="27.5" y="82.8" font-size="8.3" text-anchor="end">1.6</text>
<text x="27.5" y="7.6" font-size="8.3" text-anchor="end">1.8</text>
<text x="180.8" y="332.6" font-size="9.2" text-anchor="middle">r</text>
<text transform="translate(7.8,154.8) rotate(-90)" font-size="9" text-anchor="middle">g<tspan font-size="4.5" dy="1.3">m</tspan><tspan dy="-1.3">(r)</tspan></text>
<line x1="248.0" y1="20.3" x2="282.2" y2="20.3" stroke="#ff0000" stroke-width="2.3" stroke-dasharray="1.15 3.53"/>
<text x="288.7" y="24.9" font-size="9.4">ψ<tspan x="294.5" font-size="7" dy="1.5">0</tspan><tspan x="298.3" dy="-1.5">=0.2</tspan></text>
<line x1="247.2" y1="46.3" x2="265.8" y2="46.3" stroke="#ff0000" stroke-width="2.2"/>
<text x="270.6" y="49.7" font-size="9.4">Fitted Curve</text>
<line x1="248.0" y1="72.5" x2="282.2" y2="72.5" stroke="#00ff00" stroke-width="2.3" stroke-dasharray="1.15 3.53"/>
<text x="288.7" y="77.1" font-size="9.4">ψ<tspan x="294.5" font-size="7" dy="1.5">0</tspan><tspan x="298.3" dy="-1.5">=0.16</tspan></text>
<line x1="247.2" y1="98.5" x2="265.8" y2="98.5" stroke="#00ff00" stroke-width="2.2"/>
<text x="270.6" y="101.9" font-size="9.4">Fitted Curve</text>
<line x1="248.0" y1="124.7" x2="282.2" y2="124.7" stroke="#0000ff" stroke-width="2.3" stroke-dasharray="1.15 3.53"/>
<text x="289.3" y="129.3" font-size="9.4">ψ<tspan x="295.1" font-size="7" dy="1.5">0</tspan><tspan x="298.9" dy="-1.5">=0.13</tspan></text>
<line x1="247.2" y1="150.7" x2="265.8" y2="150.7" stroke="#0000ff" stroke-width="2.2"/>
<text x="270.6" y="154.1" font-size="9.4">Fitted Curve</text>
<line x1="248.0" y1="176.9" x2="282.2" y2="176.9" stroke="#8b008b" stroke-width="2.3" stroke-dasharray="1.15 3.53"/>
<text x="288.7" y="181.5" font-size="9.4">ψ<tspan x="294.5" font-size="7" dy="1.5">0</tspan><tspan x="298.3" dy="-1.5">=0.09</tspan></text>
<line x1="247.2" y1="202.9" x2="265.8" y2="202.9" stroke="#8b008b" stroke-width="2.2"/>
<text x="270.6" y="206.3" font-size="9.4">Fitted Curve</text>
</svg>
</body></html>
